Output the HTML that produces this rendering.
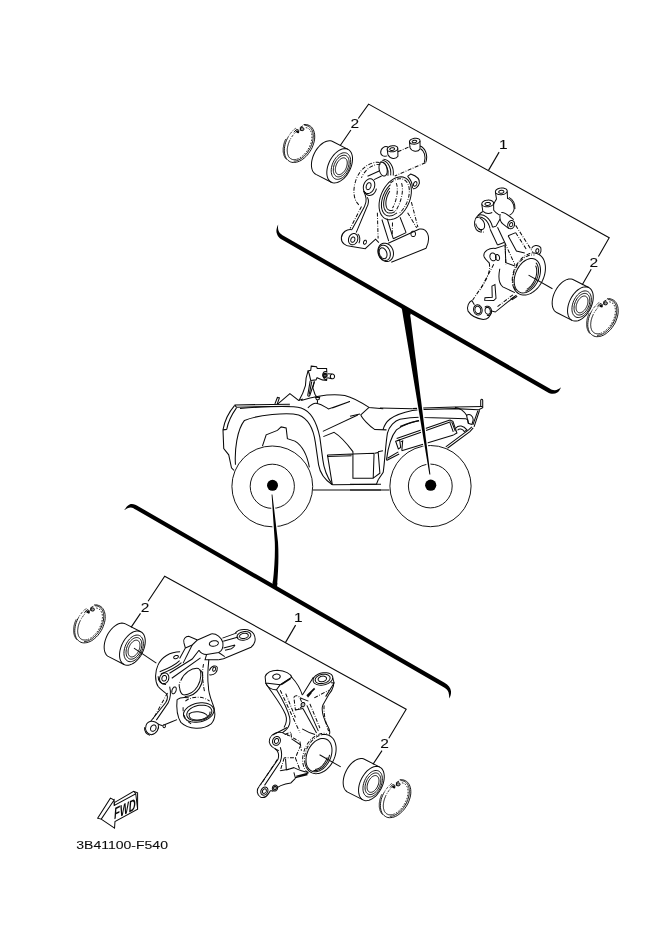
<!DOCTYPE html>
<html><head><meta charset="utf-8"><title>3B41100-F540</title>
<style>
html,body{margin:0;padding:0;background:#fff;}
body{width:661px;height:935px;overflow:hidden;font-family:"Liberation Sans",sans-serif;}
svg{display:block;}
text{font-family:"Liberation Sans",sans-serif;fill:#0a0a0a;stroke:#0a0a0a;stroke-width:0.08px;}
</style></head><body>
<svg style="filter:grayscale(1)" width="661" height="935" viewBox="0 0 661 935">
<rect width="661" height="935" fill="#fff"/>
<g transform="translate(299.5,143.5)" stroke-width="0.95"><path d="M4.1,-18.9 L5.6,-19.0 L7.1,-18.9 L8.5,-18.5 L9.8,-18.0 L10.9,-17.3 L12.0,-16.4 L12.9,-15.3 L13.7,-14.0 L14.3,-12.5 L14.8,-11.0 L15.1,-9.3 L15.2,-7.5 L15.2,-5.6 L15.0,-3.6 L14.6,-1.6 L14.0,0.4 L13.3,2.4 L12.5,4.4 L11.5,6.3 L10.3,8.2 L9.1,9.9 L7.8,11.6 L6.3,13.1 L4.8,14.5 L3.3,15.7 L1.7,16.8 L0.1,17.6 L-1.6,18.3 L-3.1,18.7 L-4.7,18.9 L-6.2,19.0 L-7.7,18.8 L-9.0,18.4 L-10.3,17.7 L-11.4,16.9 L-12.4,15.9 L-13.3,14.8 L-14.0,13.4 L-14.5,11.9 L-14.9,10.3 L-15.2,8.5 L-15.2,6.7 L-15.1,4.8 L-14.8,2.8 L-14.4,0.8 L-13.8,-1.2 L-13.0,-3.2 L-12.1,-5.2" fill="none" stroke="#0a0a0a"/><path d="M-12.1,-5.2 L-11.9,-5.4 L-11.8,-5.7 L-11.7,-5.9 L-11.5,-6.2 L-11.4,-6.4 L-11.3,-6.7 L-11.1,-6.9 L-11.0,-7.2 L-10.8,-7.4 L-10.7,-7.7 L-10.5,-7.9 L-10.4,-8.1 L-10.2,-8.4 L-10.1,-8.6 L-9.9,-8.8 L-9.8,-9.1 L-9.6,-9.3 L-9.4,-9.5 L-9.3,-9.7 L-9.1,-10.0 L-8.9,-10.2 L-8.7,-10.4 L-8.6,-10.6 L-8.4,-10.8 L-8.2,-11.1 L-8.0,-11.3 L-7.9,-11.5 L-7.7,-11.7 L-7.5,-11.9 L-7.3,-12.1 L-7.1,-12.3 L-6.9,-12.5 L-6.8,-12.7 L-6.6,-12.9 L-6.4,-13.1 L-6.2,-13.3 L-6.0,-13.5 L-5.8,-13.6 L-5.6,-13.8 L-5.4,-14.0 L-5.2,-14.2 L-5.0,-14.3 L-4.8,-14.5 L-4.6,-14.7 L-4.4,-14.8 L-4.2,-15.0 L-4.0,-15.2 L-3.8,-15.3" fill="none" stroke="#0a0a0a" stroke-dasharray="2.4 1.2 0.8 1.2"/><path d="M5.0,-18.1 L5.8,-18.1 L6.7,-18.0 L7.5,-17.8 L8.2,-17.5 L8.9,-17.2 L9.6,-16.8 L10.2,-16.3 L10.8,-15.8 L11.4,-15.2 L11.9,-14.5 L12.3,-13.8 L12.7,-13.0 L13.0,-12.2 L13.3,-11.3 L13.5,-10.3 L13.6,-9.3 L13.7,-8.3 L13.8,-7.3 L13.7,-6.2 L13.6,-5.0 L13.5,-3.9 L13.3,-2.8 L13.0,-1.6 L12.7,-0.4 L12.3,0.7 L11.9,1.9 L11.4,3.1 L10.8,4.2 L10.3,5.3 L9.6,6.4 L8.9,7.5 L8.2,8.6 L7.5,9.6 L6.7,10.5 L5.9,11.4 L5.0,12.3 L4.2,13.1 L3.3,13.9 L2.4,14.5 L1.5,15.2 L0.5,15.7 L-0.4,16.2 L-1.3,16.7 L-2.2,17.0 L-3.1,17.3 L-4.1,17.5 L-4.9,17.6 L-5.8,17.7" fill="none" stroke="#0a0a0a"/><path d="M6.3,-15.9 L6.9,-15.8 L7.5,-15.6 L8.1,-15.4 L8.7,-15.2 L9.2,-14.8 L9.7,-14.5 L10.1,-14.0 L10.5,-13.6 L10.9,-13.0 L11.2,-12.5 L11.5,-11.8 L11.8,-11.2 L12.0,-10.5 L12.2,-9.8 L12.3,-9.0 L12.4,-8.2 L12.5,-7.3 L12.5,-6.5 L12.4,-5.6 L12.3,-4.7 L12.2,-3.8 L12.0,-2.8 L11.8,-1.9 L11.6,-0.9 L11.3,0.0 L10.9,1.0 L10.5,1.9 L10.1,2.9 L9.7,3.8 L9.2,4.7 L8.7,5.6 L8.1,6.5 L7.6,7.4 L7.0,8.2 L6.3,9.0 L5.7,9.8 L5.0,10.6 L4.3,11.3 L3.6,11.9 L2.9,12.5 L2.2,13.1 L1.5,13.7 L0.7,14.1 L-0.0,14.6 L-0.7,15.0 L-1.5,15.3 L-2.2,15.6 L-2.9,15.8" fill="none" stroke="#0a0a0a" stroke-dasharray="1.6 1.4"/><path d="M-2.9,15.8 L-3.4,15.9 L-3.9,16.0 L-4.3,16.1 L-4.8,16.1 L-5.2,16.1 L-5.6,16.1 L-6.1,16.1 L-6.5,16.0 L-6.9,16.0 L-7.3,15.9 L-7.7,15.7 L-8.0,15.6 L-8.4,15.4 L-8.7,15.2 L-9.1,15.0 L-9.4,14.7 L-9.7,14.5 L-10.0,14.2 L-10.3,13.8 L-10.5,13.5 L-10.8,13.2 L-11.0,12.8 L-11.2,12.4 L-11.4,12.0 L-11.6,11.5 L-11.7,11.1 L-11.8,10.6 L-12.0,10.1 L-12.1,9.6 L-12.1,9.1 L-12.2,8.6 L-12.2,8.1 L-12.3,7.5 L-12.3,6.9 L-12.3,6.4 L-12.2,5.8 L-12.2,5.2 L-12.1,4.6 L-12.0,4.0 L-11.9,3.4 L-11.8,2.7 L-11.6,2.1 L-11.5,1.5 L-11.3,0.9 L-11.1,0.2 L-10.9,-0.4 L-10.6,-1.0 L-10.4,-1.6" fill="none" stroke="#0a0a0a"/><path d="M-10.4,-1.6 L-10.3,-1.9 L-10.2,-2.1 L-10.1,-2.3 L-10.0,-2.6 L-9.9,-2.8 L-9.8,-3.0 L-9.7,-3.3 L-9.5,-3.5 L-9.4,-3.7 L-9.3,-3.9 L-9.2,-4.2 L-9.1,-4.4 L-9.0,-4.6 L-8.8,-4.8 L-8.7,-5.1 L-8.6,-5.3 L-8.4,-5.5 L-8.3,-5.7 L-8.2,-5.9 L-8.0,-6.1 L-7.9,-6.4 L-7.8,-6.6 L-7.6,-6.8 L-7.5,-7.0 L-7.3,-7.2 L-7.2,-7.4 L-7.1,-7.6 L-6.9,-7.8 L-6.8,-8.0 L-6.6,-8.2 L-6.5,-8.4 L-6.3,-8.6 L-6.2,-8.8 L-6.0,-9.0 L-5.8,-9.2 L-5.7,-9.4 L-5.5,-9.6 L-5.4,-9.8 L-5.2,-9.9 L-5.0,-10.1 L-4.9,-10.3 L-4.7,-10.5 L-4.5,-10.6 L-4.4,-10.8 L-4.2,-11.0 L-4.0,-11.2 L-3.9,-11.3 L-3.7,-11.5" fill="none" stroke="#0a0a0a" stroke-dasharray="2.4 1.2 0.8 1.2"/><path d="M-13.0,15.9 L-13.3,15.6 L-13.5,15.3 L-13.7,15.1 L-13.9,14.8 L-14.2,14.5 L-14.4,14.2 L-14.5,13.9 L-14.7,13.5 L-14.9,13.2 L-15.1,12.8 L-15.2,12.5 L-15.4,12.1 L-15.5,11.8 L-15.6,11.4 L-15.7,11.0 L-15.8,10.6 L-15.9,10.2 L-16.0,9.8 L-16.1,9.3 L-16.2,8.9 L-16.2,8.5 L-16.3,8.0 L-16.3,7.6 L-16.3,7.2 L-16.3,6.7 L-16.3,6.2 L-16.3,5.8 L-16.3,5.3 L-16.3,4.8 L-16.2,4.3 L-16.2,3.9 L-16.1,3.4 L-16.0,2.9 L-16.0,2.4 L-15.9,1.9 L-15.8,1.4 L-15.7,0.9 L-15.5,0.4 L-15.4,-0.1 L-15.3,-0.6 L-15.1,-1.1 L-15.0,-1.6 L-14.8,-2.0 L-14.6,-2.5 L-14.4,-3.0 L-14.2,-3.5 L-14.0,-4.0 L-13.8,-4.5" fill="none" stroke="#0a0a0a"/><ellipse cx="-2.0" cy="-11.8" rx="1.7" ry="1.2" fill="#0a0a0a" stroke="none" transform="rotate(35 -2.0 -11.8)"/><ellipse cx="2.6" cy="-14.4" rx="1.9" ry="1.6" fill="#999" stroke="#0a0a0a"/><path d="M-5.6,-11.2 L-2.9,-14.2 L-0.6,-13.2 L-1.0,-10.4 M0.8,-16.2 L3.4,-17.6 M0.8,-16.2 L1.0,-13" fill="none" stroke="#0a0a0a"/></g>
<g transform="translate(602.96,317.7)" stroke-width="0.95"><path d="M4.1,-18.9 L5.6,-19.0 L7.1,-18.9 L8.5,-18.5 L9.8,-18.0 L10.9,-17.3 L12.0,-16.4 L12.9,-15.3 L13.7,-14.0 L14.3,-12.5 L14.8,-11.0 L15.1,-9.3 L15.2,-7.5 L15.2,-5.6 L15.0,-3.6 L14.6,-1.6 L14.0,0.4 L13.3,2.4 L12.5,4.4 L11.5,6.3 L10.3,8.2 L9.1,9.9 L7.8,11.6 L6.3,13.1 L4.8,14.5 L3.3,15.7 L1.7,16.8 L0.1,17.6 L-1.6,18.3 L-3.1,18.7 L-4.7,18.9 L-6.2,19.0 L-7.7,18.8 L-9.0,18.4 L-10.3,17.7 L-11.4,16.9 L-12.4,15.9 L-13.3,14.8 L-14.0,13.4 L-14.5,11.9 L-14.9,10.3 L-15.2,8.5 L-15.2,6.7 L-15.1,4.8 L-14.8,2.8 L-14.4,0.8 L-13.8,-1.2 L-13.0,-3.2 L-12.1,-5.2" fill="none" stroke="#0a0a0a"/><path d="M-12.1,-5.2 L-11.9,-5.4 L-11.8,-5.7 L-11.7,-5.9 L-11.5,-6.2 L-11.4,-6.4 L-11.3,-6.7 L-11.1,-6.9 L-11.0,-7.2 L-10.8,-7.4 L-10.7,-7.7 L-10.5,-7.9 L-10.4,-8.1 L-10.2,-8.4 L-10.1,-8.6 L-9.9,-8.8 L-9.8,-9.1 L-9.6,-9.3 L-9.4,-9.5 L-9.3,-9.7 L-9.1,-10.0 L-8.9,-10.2 L-8.7,-10.4 L-8.6,-10.6 L-8.4,-10.8 L-8.2,-11.1 L-8.0,-11.3 L-7.9,-11.5 L-7.7,-11.7 L-7.5,-11.9 L-7.3,-12.1 L-7.1,-12.3 L-6.9,-12.5 L-6.8,-12.7 L-6.6,-12.9 L-6.4,-13.1 L-6.2,-13.3 L-6.0,-13.5 L-5.8,-13.6 L-5.6,-13.8 L-5.4,-14.0 L-5.2,-14.2 L-5.0,-14.3 L-4.8,-14.5 L-4.6,-14.7 L-4.4,-14.8 L-4.2,-15.0 L-4.0,-15.2 L-3.8,-15.3" fill="none" stroke="#0a0a0a" stroke-dasharray="2.4 1.2 0.8 1.2"/><path d="M5.0,-18.1 L5.8,-18.1 L6.7,-18.0 L7.5,-17.8 L8.2,-17.5 L8.9,-17.2 L9.6,-16.8 L10.2,-16.3 L10.8,-15.8 L11.4,-15.2 L11.9,-14.5 L12.3,-13.8 L12.7,-13.0 L13.0,-12.2 L13.3,-11.3 L13.5,-10.3 L13.6,-9.3 L13.7,-8.3 L13.8,-7.3 L13.7,-6.2 L13.6,-5.0 L13.5,-3.9 L13.3,-2.8 L13.0,-1.6 L12.7,-0.4 L12.3,0.7 L11.9,1.9 L11.4,3.1 L10.8,4.2 L10.3,5.3 L9.6,6.4 L8.9,7.5 L8.2,8.6 L7.5,9.6 L6.7,10.5 L5.9,11.4 L5.0,12.3 L4.2,13.1 L3.3,13.9 L2.4,14.5 L1.5,15.2 L0.5,15.7 L-0.4,16.2 L-1.3,16.7 L-2.2,17.0 L-3.1,17.3 L-4.1,17.5 L-4.9,17.6 L-5.8,17.7" fill="none" stroke="#0a0a0a"/><path d="M6.3,-15.9 L6.9,-15.8 L7.5,-15.6 L8.1,-15.4 L8.7,-15.2 L9.2,-14.8 L9.7,-14.5 L10.1,-14.0 L10.5,-13.6 L10.9,-13.0 L11.2,-12.5 L11.5,-11.8 L11.8,-11.2 L12.0,-10.5 L12.2,-9.8 L12.3,-9.0 L12.4,-8.2 L12.5,-7.3 L12.5,-6.5 L12.4,-5.6 L12.3,-4.7 L12.2,-3.8 L12.0,-2.8 L11.8,-1.9 L11.6,-0.9 L11.3,0.0 L10.9,1.0 L10.5,1.9 L10.1,2.9 L9.7,3.8 L9.2,4.7 L8.7,5.6 L8.1,6.5 L7.6,7.4 L7.0,8.2 L6.3,9.0 L5.7,9.8 L5.0,10.6 L4.3,11.3 L3.6,11.9 L2.9,12.5 L2.2,13.1 L1.5,13.7 L0.7,14.1 L-0.0,14.6 L-0.7,15.0 L-1.5,15.3 L-2.2,15.6 L-2.9,15.8" fill="none" stroke="#0a0a0a" stroke-dasharray="1.6 1.4"/><path d="M-2.9,15.8 L-3.4,15.9 L-3.9,16.0 L-4.3,16.1 L-4.8,16.1 L-5.2,16.1 L-5.6,16.1 L-6.1,16.1 L-6.5,16.0 L-6.9,16.0 L-7.3,15.9 L-7.7,15.7 L-8.0,15.6 L-8.4,15.4 L-8.7,15.2 L-9.1,15.0 L-9.4,14.7 L-9.7,14.5 L-10.0,14.2 L-10.3,13.8 L-10.5,13.5 L-10.8,13.2 L-11.0,12.8 L-11.2,12.4 L-11.4,12.0 L-11.6,11.5 L-11.7,11.1 L-11.8,10.6 L-12.0,10.1 L-12.1,9.6 L-12.1,9.1 L-12.2,8.6 L-12.2,8.1 L-12.3,7.5 L-12.3,6.9 L-12.3,6.4 L-12.2,5.8 L-12.2,5.2 L-12.1,4.6 L-12.0,4.0 L-11.9,3.4 L-11.8,2.7 L-11.6,2.1 L-11.5,1.5 L-11.3,0.9 L-11.1,0.2 L-10.9,-0.4 L-10.6,-1.0 L-10.4,-1.6" fill="none" stroke="#0a0a0a"/><path d="M-10.4,-1.6 L-10.3,-1.9 L-10.2,-2.1 L-10.1,-2.3 L-10.0,-2.6 L-9.9,-2.8 L-9.8,-3.0 L-9.7,-3.3 L-9.5,-3.5 L-9.4,-3.7 L-9.3,-3.9 L-9.2,-4.2 L-9.1,-4.4 L-9.0,-4.6 L-8.8,-4.8 L-8.7,-5.1 L-8.6,-5.3 L-8.4,-5.5 L-8.3,-5.7 L-8.2,-5.9 L-8.0,-6.1 L-7.9,-6.4 L-7.8,-6.6 L-7.6,-6.8 L-7.5,-7.0 L-7.3,-7.2 L-7.2,-7.4 L-7.1,-7.6 L-6.9,-7.8 L-6.8,-8.0 L-6.6,-8.2 L-6.5,-8.4 L-6.3,-8.6 L-6.2,-8.8 L-6.0,-9.0 L-5.8,-9.2 L-5.7,-9.4 L-5.5,-9.6 L-5.4,-9.8 L-5.2,-9.9 L-5.0,-10.1 L-4.9,-10.3 L-4.7,-10.5 L-4.5,-10.6 L-4.4,-10.8 L-4.2,-11.0 L-4.0,-11.2 L-3.9,-11.3 L-3.7,-11.5" fill="none" stroke="#0a0a0a" stroke-dasharray="2.4 1.2 0.8 1.2"/><path d="M-13.0,15.9 L-13.3,15.6 L-13.5,15.3 L-13.7,15.1 L-13.9,14.8 L-14.2,14.5 L-14.4,14.2 L-14.5,13.9 L-14.7,13.5 L-14.9,13.2 L-15.1,12.8 L-15.2,12.5 L-15.4,12.1 L-15.5,11.8 L-15.6,11.4 L-15.7,11.0 L-15.8,10.6 L-15.9,10.2 L-16.0,9.8 L-16.1,9.3 L-16.2,8.9 L-16.2,8.5 L-16.3,8.0 L-16.3,7.6 L-16.3,7.2 L-16.3,6.7 L-16.3,6.2 L-16.3,5.8 L-16.3,5.3 L-16.3,4.8 L-16.2,4.3 L-16.2,3.9 L-16.1,3.4 L-16.0,2.9 L-16.0,2.4 L-15.9,1.9 L-15.8,1.4 L-15.7,0.9 L-15.5,0.4 L-15.4,-0.1 L-15.3,-0.6 L-15.1,-1.1 L-15.0,-1.6 L-14.8,-2.0 L-14.6,-2.5 L-14.4,-3.0 L-14.2,-3.5 L-14.0,-4.0 L-13.8,-4.5" fill="none" stroke="#0a0a0a"/><ellipse cx="-2.0" cy="-11.8" rx="1.7" ry="1.2" fill="#0a0a0a" stroke="none" transform="rotate(35 -2.0 -11.8)"/><ellipse cx="2.6" cy="-14.4" rx="1.9" ry="1.6" fill="#999" stroke="#0a0a0a"/><path d="M-5.6,-11.2 L-2.9,-14.2 L-0.6,-13.2 L-1.0,-10.4 M0.8,-16.2 L3.4,-17.6 M0.8,-16.2 L1.0,-13" fill="none" stroke="#0a0a0a"/></g>
<g transform="translate(89.96,623.9)" stroke-width="0.95"><path d="M4.1,-18.9 L5.6,-19.0 L7.1,-18.9 L8.5,-18.5 L9.8,-18.0 L10.9,-17.3 L12.0,-16.4 L12.9,-15.3 L13.7,-14.0 L14.3,-12.5 L14.8,-11.0 L15.1,-9.3 L15.2,-7.5 L15.2,-5.6 L15.0,-3.6 L14.6,-1.6 L14.0,0.4 L13.3,2.4 L12.5,4.4 L11.5,6.3 L10.3,8.2 L9.1,9.9 L7.8,11.6 L6.3,13.1 L4.8,14.5 L3.3,15.7 L1.7,16.8 L0.1,17.6 L-1.6,18.3 L-3.1,18.7 L-4.7,18.9 L-6.2,19.0 L-7.7,18.8 L-9.0,18.4 L-10.3,17.7 L-11.4,16.9 L-12.4,15.9 L-13.3,14.8 L-14.0,13.4 L-14.5,11.9 L-14.9,10.3 L-15.2,8.5 L-15.2,6.7 L-15.1,4.8 L-14.8,2.8 L-14.4,0.8 L-13.8,-1.2 L-13.0,-3.2 L-12.1,-5.2" fill="none" stroke="#0a0a0a"/><path d="M-12.1,-5.2 L-11.9,-5.4 L-11.8,-5.7 L-11.7,-5.9 L-11.5,-6.2 L-11.4,-6.4 L-11.3,-6.7 L-11.1,-6.9 L-11.0,-7.2 L-10.8,-7.4 L-10.7,-7.7 L-10.5,-7.9 L-10.4,-8.1 L-10.2,-8.4 L-10.1,-8.6 L-9.9,-8.8 L-9.8,-9.1 L-9.6,-9.3 L-9.4,-9.5 L-9.3,-9.7 L-9.1,-10.0 L-8.9,-10.2 L-8.7,-10.4 L-8.6,-10.6 L-8.4,-10.8 L-8.2,-11.1 L-8.0,-11.3 L-7.9,-11.5 L-7.7,-11.7 L-7.5,-11.9 L-7.3,-12.1 L-7.1,-12.3 L-6.9,-12.5 L-6.8,-12.7 L-6.6,-12.9 L-6.4,-13.1 L-6.2,-13.3 L-6.0,-13.5 L-5.8,-13.6 L-5.6,-13.8 L-5.4,-14.0 L-5.2,-14.2 L-5.0,-14.3 L-4.8,-14.5 L-4.6,-14.7 L-4.4,-14.8 L-4.2,-15.0 L-4.0,-15.2 L-3.8,-15.3" fill="none" stroke="#0a0a0a" stroke-dasharray="2.4 1.2 0.8 1.2"/><path d="M5.0,-18.1 L5.8,-18.1 L6.7,-18.0 L7.5,-17.8 L8.2,-17.5 L8.9,-17.2 L9.6,-16.8 L10.2,-16.3 L10.8,-15.8 L11.4,-15.2 L11.9,-14.5 L12.3,-13.8 L12.7,-13.0 L13.0,-12.2 L13.3,-11.3 L13.5,-10.3 L13.6,-9.3 L13.7,-8.3 L13.8,-7.3 L13.7,-6.2 L13.6,-5.0 L13.5,-3.9 L13.3,-2.8 L13.0,-1.6 L12.7,-0.4 L12.3,0.7 L11.9,1.9 L11.4,3.1 L10.8,4.2 L10.3,5.3 L9.6,6.4 L8.9,7.5 L8.2,8.6 L7.5,9.6 L6.7,10.5 L5.9,11.4 L5.0,12.3 L4.2,13.1 L3.3,13.9 L2.4,14.5 L1.5,15.2 L0.5,15.7 L-0.4,16.2 L-1.3,16.7 L-2.2,17.0 L-3.1,17.3 L-4.1,17.5 L-4.9,17.6 L-5.8,17.7" fill="none" stroke="#0a0a0a"/><path d="M6.3,-15.9 L6.9,-15.8 L7.5,-15.6 L8.1,-15.4 L8.7,-15.2 L9.2,-14.8 L9.7,-14.5 L10.1,-14.0 L10.5,-13.6 L10.9,-13.0 L11.2,-12.5 L11.5,-11.8 L11.8,-11.2 L12.0,-10.5 L12.2,-9.8 L12.3,-9.0 L12.4,-8.2 L12.5,-7.3 L12.5,-6.5 L12.4,-5.6 L12.3,-4.7 L12.2,-3.8 L12.0,-2.8 L11.8,-1.9 L11.6,-0.9 L11.3,0.0 L10.9,1.0 L10.5,1.9 L10.1,2.9 L9.7,3.8 L9.2,4.7 L8.7,5.6 L8.1,6.5 L7.6,7.4 L7.0,8.2 L6.3,9.0 L5.7,9.8 L5.0,10.6 L4.3,11.3 L3.6,11.9 L2.9,12.5 L2.2,13.1 L1.5,13.7 L0.7,14.1 L-0.0,14.6 L-0.7,15.0 L-1.5,15.3 L-2.2,15.6 L-2.9,15.8" fill="none" stroke="#0a0a0a" stroke-dasharray="1.6 1.4"/><path d="M-2.9,15.8 L-3.4,15.9 L-3.9,16.0 L-4.3,16.1 L-4.8,16.1 L-5.2,16.1 L-5.6,16.1 L-6.1,16.1 L-6.5,16.0 L-6.9,16.0 L-7.3,15.9 L-7.7,15.7 L-8.0,15.6 L-8.4,15.4 L-8.7,15.2 L-9.1,15.0 L-9.4,14.7 L-9.7,14.5 L-10.0,14.2 L-10.3,13.8 L-10.5,13.5 L-10.8,13.2 L-11.0,12.8 L-11.2,12.4 L-11.4,12.0 L-11.6,11.5 L-11.7,11.1 L-11.8,10.6 L-12.0,10.1 L-12.1,9.6 L-12.1,9.1 L-12.2,8.6 L-12.2,8.1 L-12.3,7.5 L-12.3,6.9 L-12.3,6.4 L-12.2,5.8 L-12.2,5.2 L-12.1,4.6 L-12.0,4.0 L-11.9,3.4 L-11.8,2.7 L-11.6,2.1 L-11.5,1.5 L-11.3,0.9 L-11.1,0.2 L-10.9,-0.4 L-10.6,-1.0 L-10.4,-1.6" fill="none" stroke="#0a0a0a"/><path d="M-10.4,-1.6 L-10.3,-1.9 L-10.2,-2.1 L-10.1,-2.3 L-10.0,-2.6 L-9.9,-2.8 L-9.8,-3.0 L-9.7,-3.3 L-9.5,-3.5 L-9.4,-3.7 L-9.3,-3.9 L-9.2,-4.2 L-9.1,-4.4 L-9.0,-4.6 L-8.8,-4.8 L-8.7,-5.1 L-8.6,-5.3 L-8.4,-5.5 L-8.3,-5.7 L-8.2,-5.9 L-8.0,-6.1 L-7.9,-6.4 L-7.8,-6.6 L-7.6,-6.8 L-7.5,-7.0 L-7.3,-7.2 L-7.2,-7.4 L-7.1,-7.6 L-6.9,-7.8 L-6.8,-8.0 L-6.6,-8.2 L-6.5,-8.4 L-6.3,-8.6 L-6.2,-8.8 L-6.0,-9.0 L-5.8,-9.2 L-5.7,-9.4 L-5.5,-9.6 L-5.4,-9.8 L-5.2,-9.9 L-5.0,-10.1 L-4.9,-10.3 L-4.7,-10.5 L-4.5,-10.6 L-4.4,-10.8 L-4.2,-11.0 L-4.0,-11.2 L-3.9,-11.3 L-3.7,-11.5" fill="none" stroke="#0a0a0a" stroke-dasharray="2.4 1.2 0.8 1.2"/><path d="M-13.0,15.9 L-13.3,15.6 L-13.5,15.3 L-13.7,15.1 L-13.9,14.8 L-14.2,14.5 L-14.4,14.2 L-14.5,13.9 L-14.7,13.5 L-14.9,13.2 L-15.1,12.8 L-15.2,12.5 L-15.4,12.1 L-15.5,11.8 L-15.6,11.4 L-15.7,11.0 L-15.8,10.6 L-15.9,10.2 L-16.0,9.8 L-16.1,9.3 L-16.2,8.9 L-16.2,8.5 L-16.3,8.0 L-16.3,7.6 L-16.3,7.2 L-16.3,6.7 L-16.3,6.2 L-16.3,5.8 L-16.3,5.3 L-16.3,4.8 L-16.2,4.3 L-16.2,3.9 L-16.1,3.4 L-16.0,2.9 L-16.0,2.4 L-15.9,1.9 L-15.8,1.4 L-15.7,0.9 L-15.5,0.4 L-15.4,-0.1 L-15.3,-0.6 L-15.1,-1.1 L-15.0,-1.6 L-14.8,-2.0 L-14.6,-2.5 L-14.4,-3.0 L-14.2,-3.5 L-14.0,-4.0 L-13.8,-4.5" fill="none" stroke="#0a0a0a"/><ellipse cx="-2.0" cy="-11.8" rx="1.7" ry="1.2" fill="#0a0a0a" stroke="none" transform="rotate(35 -2.0 -11.8)"/><ellipse cx="2.6" cy="-14.4" rx="1.9" ry="1.6" fill="#999" stroke="#0a0a0a"/><path d="M-5.6,-11.2 L-2.9,-14.2 L-0.6,-13.2 L-1.0,-10.4 M0.8,-16.2 L3.4,-17.6 M0.8,-16.2 L1.0,-13" fill="none" stroke="#0a0a0a"/></g>
<g transform="translate(395.6,798.7)" stroke-width="0.95"><path d="M4.1,-18.9 L5.6,-19.0 L7.1,-18.9 L8.5,-18.5 L9.8,-18.0 L10.9,-17.3 L12.0,-16.4 L12.9,-15.3 L13.7,-14.0 L14.3,-12.5 L14.8,-11.0 L15.1,-9.3 L15.2,-7.5 L15.2,-5.6 L15.0,-3.6 L14.6,-1.6 L14.0,0.4 L13.3,2.4 L12.5,4.4 L11.5,6.3 L10.3,8.2 L9.1,9.9 L7.8,11.6 L6.3,13.1 L4.8,14.5 L3.3,15.7 L1.7,16.8 L0.1,17.6 L-1.6,18.3 L-3.1,18.7 L-4.7,18.9 L-6.2,19.0 L-7.7,18.8 L-9.0,18.4 L-10.3,17.7 L-11.4,16.9 L-12.4,15.9 L-13.3,14.8 L-14.0,13.4 L-14.5,11.9 L-14.9,10.3 L-15.2,8.5 L-15.2,6.7 L-15.1,4.8 L-14.8,2.8 L-14.4,0.8 L-13.8,-1.2 L-13.0,-3.2 L-12.1,-5.2" fill="none" stroke="#0a0a0a"/><path d="M-12.1,-5.2 L-11.9,-5.4 L-11.8,-5.7 L-11.7,-5.9 L-11.5,-6.2 L-11.4,-6.4 L-11.3,-6.7 L-11.1,-6.9 L-11.0,-7.2 L-10.8,-7.4 L-10.7,-7.7 L-10.5,-7.9 L-10.4,-8.1 L-10.2,-8.4 L-10.1,-8.6 L-9.9,-8.8 L-9.8,-9.1 L-9.6,-9.3 L-9.4,-9.5 L-9.3,-9.7 L-9.1,-10.0 L-8.9,-10.2 L-8.7,-10.4 L-8.6,-10.6 L-8.4,-10.8 L-8.2,-11.1 L-8.0,-11.3 L-7.9,-11.5 L-7.7,-11.7 L-7.5,-11.9 L-7.3,-12.1 L-7.1,-12.3 L-6.9,-12.5 L-6.8,-12.7 L-6.6,-12.9 L-6.4,-13.1 L-6.2,-13.3 L-6.0,-13.5 L-5.8,-13.6 L-5.6,-13.8 L-5.4,-14.0 L-5.2,-14.2 L-5.0,-14.3 L-4.8,-14.5 L-4.6,-14.7 L-4.4,-14.8 L-4.2,-15.0 L-4.0,-15.2 L-3.8,-15.3" fill="none" stroke="#0a0a0a" stroke-dasharray="2.4 1.2 0.8 1.2"/><path d="M5.0,-18.1 L5.8,-18.1 L6.7,-18.0 L7.5,-17.8 L8.2,-17.5 L8.9,-17.2 L9.6,-16.8 L10.2,-16.3 L10.8,-15.8 L11.4,-15.2 L11.9,-14.5 L12.3,-13.8 L12.7,-13.0 L13.0,-12.2 L13.3,-11.3 L13.5,-10.3 L13.6,-9.3 L13.7,-8.3 L13.8,-7.3 L13.7,-6.2 L13.6,-5.0 L13.5,-3.9 L13.3,-2.8 L13.0,-1.6 L12.7,-0.4 L12.3,0.7 L11.9,1.9 L11.4,3.1 L10.8,4.2 L10.3,5.3 L9.6,6.4 L8.9,7.5 L8.2,8.6 L7.5,9.6 L6.7,10.5 L5.9,11.4 L5.0,12.3 L4.2,13.1 L3.3,13.9 L2.4,14.5 L1.5,15.2 L0.5,15.7 L-0.4,16.2 L-1.3,16.7 L-2.2,17.0 L-3.1,17.3 L-4.1,17.5 L-4.9,17.6 L-5.8,17.7" fill="none" stroke="#0a0a0a"/><path d="M6.3,-15.9 L6.9,-15.8 L7.5,-15.6 L8.1,-15.4 L8.7,-15.2 L9.2,-14.8 L9.7,-14.5 L10.1,-14.0 L10.5,-13.6 L10.9,-13.0 L11.2,-12.5 L11.5,-11.8 L11.8,-11.2 L12.0,-10.5 L12.2,-9.8 L12.3,-9.0 L12.4,-8.2 L12.5,-7.3 L12.5,-6.5 L12.4,-5.6 L12.3,-4.7 L12.2,-3.8 L12.0,-2.8 L11.8,-1.9 L11.6,-0.9 L11.3,0.0 L10.9,1.0 L10.5,1.9 L10.1,2.9 L9.7,3.8 L9.2,4.7 L8.7,5.6 L8.1,6.5 L7.6,7.4 L7.0,8.2 L6.3,9.0 L5.7,9.8 L5.0,10.6 L4.3,11.3 L3.6,11.9 L2.9,12.5 L2.2,13.1 L1.5,13.7 L0.7,14.1 L-0.0,14.6 L-0.7,15.0 L-1.5,15.3 L-2.2,15.6 L-2.9,15.8" fill="none" stroke="#0a0a0a" stroke-dasharray="1.6 1.4"/><path d="M-2.9,15.8 L-3.4,15.9 L-3.9,16.0 L-4.3,16.1 L-4.8,16.1 L-5.2,16.1 L-5.6,16.1 L-6.1,16.1 L-6.5,16.0 L-6.9,16.0 L-7.3,15.9 L-7.7,15.7 L-8.0,15.6 L-8.4,15.4 L-8.7,15.2 L-9.1,15.0 L-9.4,14.7 L-9.7,14.5 L-10.0,14.2 L-10.3,13.8 L-10.5,13.5 L-10.8,13.2 L-11.0,12.8 L-11.2,12.4 L-11.4,12.0 L-11.6,11.5 L-11.7,11.1 L-11.8,10.6 L-12.0,10.1 L-12.1,9.6 L-12.1,9.1 L-12.2,8.6 L-12.2,8.1 L-12.3,7.5 L-12.3,6.9 L-12.3,6.4 L-12.2,5.8 L-12.2,5.2 L-12.1,4.6 L-12.0,4.0 L-11.9,3.4 L-11.8,2.7 L-11.6,2.1 L-11.5,1.5 L-11.3,0.9 L-11.1,0.2 L-10.9,-0.4 L-10.6,-1.0 L-10.4,-1.6" fill="none" stroke="#0a0a0a"/><path d="M-10.4,-1.6 L-10.3,-1.9 L-10.2,-2.1 L-10.1,-2.3 L-10.0,-2.6 L-9.9,-2.8 L-9.8,-3.0 L-9.7,-3.3 L-9.5,-3.5 L-9.4,-3.7 L-9.3,-3.9 L-9.2,-4.2 L-9.1,-4.4 L-9.0,-4.6 L-8.8,-4.8 L-8.7,-5.1 L-8.6,-5.3 L-8.4,-5.5 L-8.3,-5.7 L-8.2,-5.9 L-8.0,-6.1 L-7.9,-6.4 L-7.8,-6.6 L-7.6,-6.8 L-7.5,-7.0 L-7.3,-7.2 L-7.2,-7.4 L-7.1,-7.6 L-6.9,-7.8 L-6.8,-8.0 L-6.6,-8.2 L-6.5,-8.4 L-6.3,-8.6 L-6.2,-8.8 L-6.0,-9.0 L-5.8,-9.2 L-5.7,-9.4 L-5.5,-9.6 L-5.4,-9.8 L-5.2,-9.9 L-5.0,-10.1 L-4.9,-10.3 L-4.7,-10.5 L-4.5,-10.6 L-4.4,-10.8 L-4.2,-11.0 L-4.0,-11.2 L-3.9,-11.3 L-3.7,-11.5" fill="none" stroke="#0a0a0a" stroke-dasharray="2.4 1.2 0.8 1.2"/><path d="M-13.0,15.9 L-13.3,15.6 L-13.5,15.3 L-13.7,15.1 L-13.9,14.8 L-14.2,14.5 L-14.4,14.2 L-14.5,13.9 L-14.7,13.5 L-14.9,13.2 L-15.1,12.8 L-15.2,12.5 L-15.4,12.1 L-15.5,11.8 L-15.6,11.4 L-15.7,11.0 L-15.8,10.6 L-15.9,10.2 L-16.0,9.8 L-16.1,9.3 L-16.2,8.9 L-16.2,8.5 L-16.3,8.0 L-16.3,7.6 L-16.3,7.2 L-16.3,6.7 L-16.3,6.2 L-16.3,5.8 L-16.3,5.3 L-16.3,4.8 L-16.2,4.3 L-16.2,3.9 L-16.1,3.4 L-16.0,2.9 L-16.0,2.4 L-15.9,1.9 L-15.8,1.4 L-15.7,0.9 L-15.5,0.4 L-15.4,-0.1 L-15.3,-0.6 L-15.1,-1.1 L-15.0,-1.6 L-14.8,-2.0 L-14.6,-2.5 L-14.4,-3.0 L-14.2,-3.5 L-14.0,-4.0 L-13.8,-4.5" fill="none" stroke="#0a0a0a"/><ellipse cx="-2.0" cy="-11.8" rx="1.7" ry="1.2" fill="#0a0a0a" stroke="none" transform="rotate(35 -2.0 -11.8)"/><ellipse cx="2.6" cy="-14.4" rx="1.9" ry="1.6" fill="#999" stroke="#0a0a0a"/><path d="M-5.6,-11.2 L-2.9,-14.2 L-0.6,-13.2 L-1.0,-10.4 M0.8,-16.2 L3.4,-17.6 M0.8,-16.2 L1.0,-13" fill="none" stroke="#0a0a0a"/></g>
<g transform="translate(304.99631387855135,134.99937278751023) scale(0.09077)" stroke-width="11.02" ><path d="M474.2,158.1 L304.9,71.9 L293.1,67.1 L280.4,64.4 L267.0,63.7 L253.1,65.2 L238.6,68.6 L223.9,74.1 L209.1,81.6 L194.3,90.9 L179.7,102.0 L165.4,114.7 L151.7,129.0 L138.7,144.6 L126.4,161.4 L115.1,179.2 L104.9,197.8 L95.9,217.0 L88.1,236.6 L81.7,256.4 L76.7,276.1 L73.3,295.6 L71.3,314.6 L70.9,332.9 L72.1,350.4 L74.8,366.8 L79.0,381.9 L84.7,395.6 L91.7,407.8 L100.1,418.2 L109.8,426.9 L120.5,433.6 L289.8,519.9 Z" fill="#fff" stroke="none"/><path d="M489.8,393.9 L476.9,417.1 L462.3,438.9 L446.3,459.0 L429.3,477.0 L411.4,492.7 L393.1,505.7 L374.5,515.9 L356.1,523.1 L338.1,527.1 L320.9,527.9 L304.7,525.5 L289.8,519.9 L276.6,511.2 L265.1,499.5 L255.6,485.1 L248.3,468.2 L243.3,449.1 L240.6,428.1 L240.4,405.5 L242.6,381.9 L247.1,357.5 L254.0,332.8 L263.1,308.1 L274.2,284.1 L287.1,260.9 L301.7,239.1 L317.7,219.0 L334.7,201.0 L352.6,185.3 L370.9,172.3 L389.5,162.1 L407.9,154.9 L425.9,150.9 L443.1,150.1 L459.3,152.5 L474.2,158.1 L487.4,166.8 L498.9,178.5 L508.4,192.9 L515.7,209.8 L520.7,228.9 L523.4,249.9 L523.6,272.5 L521.4,296.1 L516.9,320.5 L510.0,345.2 L500.9,369.9 L489.8,393.9Z" fill="#fff" stroke="#0a0a0a"/><path d="M482.8,380.6 L473.8,398.8 L463.5,416.0 L452.1,431.9 L439.6,446.3 L426.5,458.9 L412.8,469.4 L398.8,477.9 L384.8,483.9 L371.0,487.6 L357.6,488.8 L344.8,487.4 L333.0,483.6 L322.2,477.3 L312.6,468.8 L304.5,458.0 L298.0,445.3 L293.2,430.8 L290.1,414.8 L288.8,397.5 L289.3,379.3 L291.7,360.5 L295.9,341.3 L301.7,322.2 L309.2,303.4 L318.2,285.2 L328.5,268.0 L339.9,252.1 L352.4,237.7 L365.5,225.1 L379.2,214.6 L393.2,206.1 L407.2,200.1 L421.0,196.4 L434.4,195.2 L447.2,196.6 L459.0,200.4 L469.8,206.7 L479.4,215.2 L487.5,226.0 L494.0,238.7 L498.8,253.2 L501.9,269.2 L503.2,286.5 L502.7,304.7 L500.3,323.5 L496.1,342.7 L490.3,361.8 L482.8,380.6Z" fill="none" stroke="#0a0a0a" stroke-width="10.5"/><path d="M469.3,373.3 L462.1,388.1 L453.7,402.0 L444.4,415.0 L434.3,426.7 L423.6,436.9 L412.5,445.5 L401.2,452.4 L389.8,457.3 L378.6,460.3 L367.7,461.3 L357.4,460.2 L347.8,457.1 L339.0,452.0 L331.3,445.1 L324.7,436.4 L319.4,426.0 L315.5,414.3 L313.0,401.2 L312.0,387.2 L312.5,372.4 L314.4,357.1 L317.8,341.5 L322.6,326.0 L328.7,310.7 L335.9,295.9 L344.3,282.0 L353.6,269.0 L363.7,257.3 L374.4,247.1 L385.5,238.5 L396.8,231.6 L408.2,226.7 L419.4,223.7 L430.3,222.7 L440.6,223.8 L450.2,226.9 L459.0,232.0 L466.7,238.9 L473.3,247.6 L478.6,258.0 L482.5,269.7 L485.0,282.8 L486.0,296.8 L485.5,311.6 L483.6,326.9 L480.2,342.5 L475.4,358.0 L469.3,373.3Z" fill="none" stroke="#0a0a0a" stroke-width="10.5"/><path d="M452.1,367.2 L446.4,378.7 L440.0,389.6 L432.9,399.7 L425.2,408.8 L417.0,416.9 L408.6,423.7 L400.1,429.1 L391.5,433.1 L383.1,435.6 L375.0,436.5 L367.3,435.8 L360.1,433.5 L353.7,429.7 L348.0,424.5 L343.2,417.8 L339.4,409.9 L336.7,400.9 L335.0,390.9 L334.4,380.1 L335.0,368.7 L336.6,356.8 L339.4,344.8 L343.2,332.7 L347.9,320.8 L353.6,309.3 L360.0,298.4 L367.1,288.3 L374.8,279.2 L383.0,271.1 L391.4,264.3 L399.9,258.9 L408.5,254.9 L416.9,252.4 L425.0,251.5 L432.7,252.2 L439.9,254.5 L446.3,258.3 L452.0,263.5 L456.8,270.2 L460.6,278.1 L463.3,287.1 L465.0,297.1 L465.6,307.9 L465.0,319.3 L463.4,331.2 L460.6,343.2 L456.8,355.3 L452.1,367.2Z" fill="none" stroke="#0a0a0a" stroke-width="10.5"/><path d="M474.2,158.1 L304.9,71.9 L293.1,67.1 L280.4,64.4 L267.0,63.7 L253.1,65.2 L238.6,68.6 L223.9,74.1 L209.1,81.6 L194.3,90.9 L179.7,102.0 L165.4,114.7 L151.7,129.0 L138.7,144.6 L126.4,161.4 L115.1,179.2 L104.9,197.8 L95.9,217.0 L88.1,236.6 L81.7,256.4 L76.7,276.1 L73.3,295.6 L71.3,314.6 L70.9,332.9 L72.1,350.4 L74.8,366.8 L79.0,381.9 L84.7,395.6 L91.7,407.8 L100.1,418.2 L109.8,426.9 L120.5,433.6 L289.8,519.9" fill="none" stroke="#0a0a0a"/></g>
<g transform="translate(545.7263138785513,273.1793727875102) scale(0.09077)" stroke-width="11.02" ><path d="M474.2,158.1 L304.9,71.9 L293.1,67.1 L280.4,64.4 L267.0,63.7 L253.1,65.2 L238.6,68.6 L223.9,74.1 L209.1,81.6 L194.3,90.9 L179.7,102.0 L165.4,114.7 L151.7,129.0 L138.7,144.6 L126.4,161.4 L115.1,179.2 L104.9,197.8 L95.9,217.0 L88.1,236.6 L81.7,256.4 L76.7,276.1 L73.3,295.6 L71.3,314.6 L70.9,332.9 L72.1,350.4 L74.8,366.8 L79.0,381.9 L84.7,395.6 L91.7,407.8 L100.1,418.2 L109.8,426.9 L120.5,433.6 L289.8,519.9 Z" fill="#fff" stroke="none"/><path d="M489.8,393.9 L476.9,417.1 L462.3,438.9 L446.3,459.0 L429.3,477.0 L411.4,492.7 L393.1,505.7 L374.5,515.9 L356.1,523.1 L338.1,527.1 L320.9,527.9 L304.7,525.5 L289.8,519.9 L276.6,511.2 L265.1,499.5 L255.6,485.1 L248.3,468.2 L243.3,449.1 L240.6,428.1 L240.4,405.5 L242.6,381.9 L247.1,357.5 L254.0,332.8 L263.1,308.1 L274.2,284.1 L287.1,260.9 L301.7,239.1 L317.7,219.0 L334.7,201.0 L352.6,185.3 L370.9,172.3 L389.5,162.1 L407.9,154.9 L425.9,150.9 L443.1,150.1 L459.3,152.5 L474.2,158.1 L487.4,166.8 L498.9,178.5 L508.4,192.9 L515.7,209.8 L520.7,228.9 L523.4,249.9 L523.6,272.5 L521.4,296.1 L516.9,320.5 L510.0,345.2 L500.9,369.9 L489.8,393.9Z" fill="#fff" stroke="#0a0a0a"/><path d="M482.8,380.6 L473.8,398.8 L463.5,416.0 L452.1,431.9 L439.6,446.3 L426.5,458.9 L412.8,469.4 L398.8,477.9 L384.8,483.9 L371.0,487.6 L357.6,488.8 L344.8,487.4 L333.0,483.6 L322.2,477.3 L312.6,468.8 L304.5,458.0 L298.0,445.3 L293.2,430.8 L290.1,414.8 L288.8,397.5 L289.3,379.3 L291.7,360.5 L295.9,341.3 L301.7,322.2 L309.2,303.4 L318.2,285.2 L328.5,268.0 L339.9,252.1 L352.4,237.7 L365.5,225.1 L379.2,214.6 L393.2,206.1 L407.2,200.1 L421.0,196.4 L434.4,195.2 L447.2,196.6 L459.0,200.4 L469.8,206.7 L479.4,215.2 L487.5,226.0 L494.0,238.7 L498.8,253.2 L501.9,269.2 L503.2,286.5 L502.7,304.7 L500.3,323.5 L496.1,342.7 L490.3,361.8 L482.8,380.6Z" fill="none" stroke="#0a0a0a" stroke-width="10.5"/><path d="M469.3,373.3 L462.1,388.1 L453.7,402.0 L444.4,415.0 L434.3,426.7 L423.6,436.9 L412.5,445.5 L401.2,452.4 L389.8,457.3 L378.6,460.3 L367.7,461.3 L357.4,460.2 L347.8,457.1 L339.0,452.0 L331.3,445.1 L324.7,436.4 L319.4,426.0 L315.5,414.3 L313.0,401.2 L312.0,387.2 L312.5,372.4 L314.4,357.1 L317.8,341.5 L322.6,326.0 L328.7,310.7 L335.9,295.9 L344.3,282.0 L353.6,269.0 L363.7,257.3 L374.4,247.1 L385.5,238.5 L396.8,231.6 L408.2,226.7 L419.4,223.7 L430.3,222.7 L440.6,223.8 L450.2,226.9 L459.0,232.0 L466.7,238.9 L473.3,247.6 L478.6,258.0 L482.5,269.7 L485.0,282.8 L486.0,296.8 L485.5,311.6 L483.6,326.9 L480.2,342.5 L475.4,358.0 L469.3,373.3Z" fill="none" stroke="#0a0a0a" stroke-width="10.5"/><path d="M452.1,367.2 L446.4,378.7 L440.0,389.6 L432.9,399.7 L425.2,408.8 L417.0,416.9 L408.6,423.7 L400.1,429.1 L391.5,433.1 L383.1,435.6 L375.0,436.5 L367.3,435.8 L360.1,433.5 L353.7,429.7 L348.0,424.5 L343.2,417.8 L339.4,409.9 L336.7,400.9 L335.0,390.9 L334.4,380.1 L335.0,368.7 L336.6,356.8 L339.4,344.8 L343.2,332.7 L347.9,320.8 L353.6,309.3 L360.0,298.4 L367.1,288.3 L374.8,279.2 L383.0,271.1 L391.4,264.3 L399.9,258.9 L408.5,254.9 L416.9,252.4 L425.0,251.5 L432.7,252.2 L439.9,254.5 L446.3,258.3 L452.0,263.5 L456.8,270.2 L460.6,278.1 L463.3,287.1 L465.0,297.1 L465.6,307.9 L465.0,319.3 L463.4,331.2 L460.6,343.2 L456.8,355.3 L452.1,367.2Z" fill="none" stroke="#0a0a0a" stroke-width="10.5"/><path d="M474.2,158.1 L304.9,71.9 L293.1,67.1 L280.4,64.4 L267.0,63.7 L253.1,65.2 L238.6,68.6 L223.9,74.1 L209.1,81.6 L194.3,90.9 L179.7,102.0 L165.4,114.7 L151.7,129.0 L138.7,144.6 L126.4,161.4 L115.1,179.2 L104.9,197.8 L95.9,217.0 L88.1,236.6 L81.7,256.4 L76.7,276.1 L73.3,295.6 L71.3,314.6 L70.9,332.9 L72.1,350.4 L74.8,366.8 L79.0,381.9 L84.7,395.6 L91.7,407.8 L100.1,418.2 L109.8,426.9 L120.5,433.6 L289.8,519.9" fill="none" stroke="#0a0a0a"/></g>
<g transform="translate(97.72631387855134,617.3293727875102) scale(0.09077)" stroke-width="11.02" ><path d="M474.2,158.1 L304.9,71.9 L293.1,67.1 L280.4,64.4 L267.0,63.7 L253.1,65.2 L238.6,68.6 L223.9,74.1 L209.1,81.6 L194.3,90.9 L179.7,102.0 L165.4,114.7 L151.7,129.0 L138.7,144.6 L126.4,161.4 L115.1,179.2 L104.9,197.8 L95.9,217.0 L88.1,236.6 L81.7,256.4 L76.7,276.1 L73.3,295.6 L71.3,314.6 L70.9,332.9 L72.1,350.4 L74.8,366.8 L79.0,381.9 L84.7,395.6 L91.7,407.8 L100.1,418.2 L109.8,426.9 L120.5,433.6 L289.8,519.9 Z" fill="#fff" stroke="none"/><path d="M489.8,393.9 L476.9,417.1 L462.3,438.9 L446.3,459.0 L429.3,477.0 L411.4,492.7 L393.1,505.7 L374.5,515.9 L356.1,523.1 L338.1,527.1 L320.9,527.9 L304.7,525.5 L289.8,519.9 L276.6,511.2 L265.1,499.5 L255.6,485.1 L248.3,468.2 L243.3,449.1 L240.6,428.1 L240.4,405.5 L242.6,381.9 L247.1,357.5 L254.0,332.8 L263.1,308.1 L274.2,284.1 L287.1,260.9 L301.7,239.1 L317.7,219.0 L334.7,201.0 L352.6,185.3 L370.9,172.3 L389.5,162.1 L407.9,154.9 L425.9,150.9 L443.1,150.1 L459.3,152.5 L474.2,158.1 L487.4,166.8 L498.9,178.5 L508.4,192.9 L515.7,209.8 L520.7,228.9 L523.4,249.9 L523.6,272.5 L521.4,296.1 L516.9,320.5 L510.0,345.2 L500.9,369.9 L489.8,393.9Z" fill="#fff" stroke="#0a0a0a"/><path d="M482.8,380.6 L473.8,398.8 L463.5,416.0 L452.1,431.9 L439.6,446.3 L426.5,458.9 L412.8,469.4 L398.8,477.9 L384.8,483.9 L371.0,487.6 L357.6,488.8 L344.8,487.4 L333.0,483.6 L322.2,477.3 L312.6,468.8 L304.5,458.0 L298.0,445.3 L293.2,430.8 L290.1,414.8 L288.8,397.5 L289.3,379.3 L291.7,360.5 L295.9,341.3 L301.7,322.2 L309.2,303.4 L318.2,285.2 L328.5,268.0 L339.9,252.1 L352.4,237.7 L365.5,225.1 L379.2,214.6 L393.2,206.1 L407.2,200.1 L421.0,196.4 L434.4,195.2 L447.2,196.6 L459.0,200.4 L469.8,206.7 L479.4,215.2 L487.5,226.0 L494.0,238.7 L498.8,253.2 L501.9,269.2 L503.2,286.5 L502.7,304.7 L500.3,323.5 L496.1,342.7 L490.3,361.8 L482.8,380.6Z" fill="none" stroke="#0a0a0a" stroke-width="10.5"/><path d="M469.3,373.3 L462.1,388.1 L453.7,402.0 L444.4,415.0 L434.3,426.7 L423.6,436.9 L412.5,445.5 L401.2,452.4 L389.8,457.3 L378.6,460.3 L367.7,461.3 L357.4,460.2 L347.8,457.1 L339.0,452.0 L331.3,445.1 L324.7,436.4 L319.4,426.0 L315.5,414.3 L313.0,401.2 L312.0,387.2 L312.5,372.4 L314.4,357.1 L317.8,341.5 L322.6,326.0 L328.7,310.7 L335.9,295.9 L344.3,282.0 L353.6,269.0 L363.7,257.3 L374.4,247.1 L385.5,238.5 L396.8,231.6 L408.2,226.7 L419.4,223.7 L430.3,222.7 L440.6,223.8 L450.2,226.9 L459.0,232.0 L466.7,238.9 L473.3,247.6 L478.6,258.0 L482.5,269.7 L485.0,282.8 L486.0,296.8 L485.5,311.6 L483.6,326.9 L480.2,342.5 L475.4,358.0 L469.3,373.3Z" fill="none" stroke="#0a0a0a" stroke-width="10.5"/><path d="M452.1,367.2 L446.4,378.7 L440.0,389.6 L432.9,399.7 L425.2,408.8 L417.0,416.9 L408.6,423.7 L400.1,429.1 L391.5,433.1 L383.1,435.6 L375.0,436.5 L367.3,435.8 L360.1,433.5 L353.7,429.7 L348.0,424.5 L343.2,417.8 L339.4,409.9 L336.7,400.9 L335.0,390.9 L334.4,380.1 L335.0,368.7 L336.6,356.8 L339.4,344.8 L343.2,332.7 L347.9,320.8 L353.6,309.3 L360.0,298.4 L367.1,288.3 L374.8,279.2 L383.0,271.1 L391.4,264.3 L399.9,258.9 L408.5,254.9 L416.9,252.4 L425.0,251.5 L432.7,252.2 L439.9,254.5 L446.3,258.3 L452.0,263.5 L456.8,270.2 L460.6,278.1 L463.3,287.1 L465.0,297.1 L465.6,307.9 L465.0,319.3 L463.4,331.2 L460.6,343.2 L456.8,355.3 L452.1,367.2Z" fill="none" stroke="#0a0a0a" stroke-width="10.5"/><path d="M474.2,158.1 L304.9,71.9 L293.1,67.1 L280.4,64.4 L267.0,63.7 L253.1,65.2 L238.6,68.6 L223.9,74.1 L209.1,81.6 L194.3,90.9 L179.7,102.0 L165.4,114.7 L151.7,129.0 L138.7,144.6 L126.4,161.4 L115.1,179.2 L104.9,197.8 L95.9,217.0 L88.1,236.6 L81.7,256.4 L76.7,276.1 L73.3,295.6 L71.3,314.6 L70.9,332.9 L72.1,350.4 L74.8,366.8 L79.0,381.9 L84.7,395.6 L91.7,407.8 L100.1,418.2 L109.8,426.9 L120.5,433.6 L289.8,519.9" fill="none" stroke="#0a0a0a"/></g>
<g transform="translate(336.7263138785513,752.7293727875102) scale(0.09077)" stroke-width="11.02" ><path d="M474.2,158.1 L304.9,71.9 L293.1,67.1 L280.4,64.4 L267.0,63.7 L253.1,65.2 L238.6,68.6 L223.9,74.1 L209.1,81.6 L194.3,90.9 L179.7,102.0 L165.4,114.7 L151.7,129.0 L138.7,144.6 L126.4,161.4 L115.1,179.2 L104.9,197.8 L95.9,217.0 L88.1,236.6 L81.7,256.4 L76.7,276.1 L73.3,295.6 L71.3,314.6 L70.9,332.9 L72.1,350.4 L74.8,366.8 L79.0,381.9 L84.7,395.6 L91.7,407.8 L100.1,418.2 L109.8,426.9 L120.5,433.6 L289.8,519.9 Z" fill="#fff" stroke="none"/><path d="M489.8,393.9 L476.9,417.1 L462.3,438.9 L446.3,459.0 L429.3,477.0 L411.4,492.7 L393.1,505.7 L374.5,515.9 L356.1,523.1 L338.1,527.1 L320.9,527.9 L304.7,525.5 L289.8,519.9 L276.6,511.2 L265.1,499.5 L255.6,485.1 L248.3,468.2 L243.3,449.1 L240.6,428.1 L240.4,405.5 L242.6,381.9 L247.1,357.5 L254.0,332.8 L263.1,308.1 L274.2,284.1 L287.1,260.9 L301.7,239.1 L317.7,219.0 L334.7,201.0 L352.6,185.3 L370.9,172.3 L389.5,162.1 L407.9,154.9 L425.9,150.9 L443.1,150.1 L459.3,152.5 L474.2,158.1 L487.4,166.8 L498.9,178.5 L508.4,192.9 L515.7,209.8 L520.7,228.9 L523.4,249.9 L523.6,272.5 L521.4,296.1 L516.9,320.5 L510.0,345.2 L500.9,369.9 L489.8,393.9Z" fill="#fff" stroke="#0a0a0a"/><path d="M482.8,380.6 L473.8,398.8 L463.5,416.0 L452.1,431.9 L439.6,446.3 L426.5,458.9 L412.8,469.4 L398.8,477.9 L384.8,483.9 L371.0,487.6 L357.6,488.8 L344.8,487.4 L333.0,483.6 L322.2,477.3 L312.6,468.8 L304.5,458.0 L298.0,445.3 L293.2,430.8 L290.1,414.8 L288.8,397.5 L289.3,379.3 L291.7,360.5 L295.9,341.3 L301.7,322.2 L309.2,303.4 L318.2,285.2 L328.5,268.0 L339.9,252.1 L352.4,237.7 L365.5,225.1 L379.2,214.6 L393.2,206.1 L407.2,200.1 L421.0,196.4 L434.4,195.2 L447.2,196.6 L459.0,200.4 L469.8,206.7 L479.4,215.2 L487.5,226.0 L494.0,238.7 L498.8,253.2 L501.9,269.2 L503.2,286.5 L502.7,304.7 L500.3,323.5 L496.1,342.7 L490.3,361.8 L482.8,380.6Z" fill="none" stroke="#0a0a0a" stroke-width="10.5"/><path d="M469.3,373.3 L462.1,388.1 L453.7,402.0 L444.4,415.0 L434.3,426.7 L423.6,436.9 L412.5,445.5 L401.2,452.4 L389.8,457.3 L378.6,460.3 L367.7,461.3 L357.4,460.2 L347.8,457.1 L339.0,452.0 L331.3,445.1 L324.7,436.4 L319.4,426.0 L315.5,414.3 L313.0,401.2 L312.0,387.2 L312.5,372.4 L314.4,357.1 L317.8,341.5 L322.6,326.0 L328.7,310.7 L335.9,295.9 L344.3,282.0 L353.6,269.0 L363.7,257.3 L374.4,247.1 L385.5,238.5 L396.8,231.6 L408.2,226.7 L419.4,223.7 L430.3,222.7 L440.6,223.8 L450.2,226.9 L459.0,232.0 L466.7,238.9 L473.3,247.6 L478.6,258.0 L482.5,269.7 L485.0,282.8 L486.0,296.8 L485.5,311.6 L483.6,326.9 L480.2,342.5 L475.4,358.0 L469.3,373.3Z" fill="none" stroke="#0a0a0a" stroke-width="10.5"/><path d="M452.1,367.2 L446.4,378.7 L440.0,389.6 L432.9,399.7 L425.2,408.8 L417.0,416.9 L408.6,423.7 L400.1,429.1 L391.5,433.1 L383.1,435.6 L375.0,436.5 L367.3,435.8 L360.1,433.5 L353.7,429.7 L348.0,424.5 L343.2,417.8 L339.4,409.9 L336.7,400.9 L335.0,390.9 L334.4,380.1 L335.0,368.7 L336.6,356.8 L339.4,344.8 L343.2,332.7 L347.9,320.8 L353.6,309.3 L360.0,298.4 L367.1,288.3 L374.8,279.2 L383.0,271.1 L391.4,264.3 L399.9,258.9 L408.5,254.9 L416.9,252.4 L425.0,251.5 L432.7,252.2 L439.9,254.5 L446.3,258.3 L452.0,263.5 L456.8,270.2 L460.6,278.1 L463.3,287.1 L465.0,297.1 L465.6,307.9 L465.0,319.3 L463.4,331.2 L460.6,343.2 L456.8,355.3 L452.1,367.2Z" fill="none" stroke="#0a0a0a" stroke-width="10.5"/><path d="M474.2,158.1 L304.9,71.9 L293.1,67.1 L280.4,64.4 L267.0,63.7 L253.1,65.2 L238.6,68.6 L223.9,74.1 L209.1,81.6 L194.3,90.9 L179.7,102.0 L165.4,114.7 L151.7,129.0 L138.7,144.6 L126.4,161.4 L115.1,179.2 L104.9,197.8 L95.9,217.0 L88.1,236.6 L81.7,256.4 L76.7,276.1 L73.3,295.6 L71.3,314.6 L70.9,332.9 L72.1,350.4 L74.8,366.8 L79.0,381.9 L84.7,395.6 L91.7,407.8 L100.1,418.2 L109.8,426.9 L120.5,433.6 L289.8,519.9" fill="none" stroke="#0a0a0a"/></g>
<g transform="translate(215,355) scale(0.24963)" stroke-width="4.21" ><path d="M78,200 L300,197 M78,200 L86,209 L300,205 M240,196 L250,170 L258,172 L249,197" fill="none" stroke="#0a0a0a"/><path d="M252,196 L300,155 L335,182 L352,176" fill="none" stroke="#0a0a0a"/><path d="M345,182 C400,165 470,155 520,162 C560,172 590,192 617,210 L674,215" fill="none" stroke="#0a0a0a"/><path d="M372,212 C385,198 395,190 410,194 C430,198 440,208 455,216 L540,186 L470,212" fill="none" stroke="#0a0a0a"/><path d="M617,210 L584,240 C588.5,253.5 620.5,286.8 640.5,298.8 L687,300" fill="none" stroke="#0a0a0a"/><path d="M432,306 L572,240" fill="none" stroke="#0a0a0a"/><path d="M78,203 C55,230 38,265 32,300 L35,375 L55,400 L66,452 L76,462" fill="none" stroke="#0a0a0a"/><path d="M86,212 C66,240 52,270 47,298 M32,300 L47,298" fill="none" stroke="#0a0a0a"/><path d="M100,214 C180,208 300,200 345,212 C385,225 408,270 420,330 L432,420 C436,455 450,490 470,520" fill="none" stroke="#0a0a0a"/><path d="M82,440 C78,380 88,300 118,262 C170,240 290,228 335,240 C375,255 395,300 402,350 L415,440 C420,470 440,500 470,520" fill="none" stroke="#0a0a0a"/><path d="M190,365 L205,320 L250,302 L265,288 L285,292 L290,335 L320,345 C345,360 368,395 378,450" fill="none" stroke="#0a0a0a"/><path d="M434,327 L477,310 C494,320 527,353 552.5,387 L552.5,397 M450.5,400 L470,520" fill="none" stroke="#0a0a0a"/><path d="M450.5,400.2 L550.5,396.8 M450.5,406.8 L547.2,403.5 M552.5,396.8 L552.5,493.5 L633.8,493.5 L637.2,393.5 L552.5,396.8 M640.5,393.5 L653.8,390.2 L660.5,473.5 L633.8,493.5" fill="none" stroke="#0a0a0a"/><path d="M470,520 L665,518 M392,541 L665,541" fill="none" stroke="#0a0a0a"/><path d="M660.8,212 L790.8,215" fill="none" stroke="#0a0a0a"/><path d="M540.8,245 L580.8,236" fill="none" stroke="#0a0a0a"/><path d="M672.8,300 C680.8,270 700.8,240 790.8,222 L835.8,217" fill="none" stroke="#0a0a0a"/><path d="M653.8,500 L673.8,470 C680.8,420 683.8,353 690.8,313 C696.8,287 720.8,262 740.8,257 C780.8,250 807.8,248 837.8,250 L942.8,253 L1003.8,255 L1012.8,260 L1015.8,275" fill="none" stroke="#0a0a0a"/><path d="M686.8,420 C693.8,367 703.8,327 726.8,300 C746.8,283 780.8,268 837.8,259" fill="none" stroke="#0a0a0a"/><path d="M652.8,388 L672.8,384" fill="none" stroke="#0a0a0a"/><path d="M540.8,518 L646.8,518 L653.8,500 M540.8,541 L698.8,541" fill="none" stroke="#0a0a0a"/></g>
<g transform="translate(400,380) scale(0.16642)" stroke-width="6.31" ><path d="M75,172 L140,168 L330,162 L497,159" fill="none" stroke="#0a0a0a"/><path d="M140,177 L330,172 L470,179" fill="none" stroke="#0a0a0a"/><path d="M485,160 L485,122 C487,114 497,114 497,122 L497,166 L470,180" fill="none" stroke="#0a0a0a"/><path d="M330,164 C362,170 385,188 400,212 L410,260 L432,268" fill="none" stroke="#0a0a0a"/><path d="M400,212 C420,200 440,215 440,240 L432,268" fill="none" stroke="#0a0a0a"/><path d="M478,182 L445,282 M468,184 L438,270" fill="none" stroke="#0a0a0a"/><path d="M440,288 L420,310 L285,410 M432,282 L412,300 L275,402" fill="none" stroke="#0a0a0a"/><path d="M-20,352 L300,240 M-18,365 L305,251" fill="none" stroke="#0a0a0a"/><path d="M300,240 L318,248 L342,318 L322,330" fill="none" stroke="#0a0a0a"/><path d="M300,256 L320,312 M310,250 L333,308" fill="none" stroke="#0a0a0a"/><path d="M10,425 L322,330" fill="none" stroke="#0a0a0a"/><path d="M5,372 L16,366 L11,424" fill="none" stroke="#0a0a0a"/><path d="M-81,484 L-5,445 M-75,470 L-10,432" fill="none" stroke="#0a0a0a"/><path d="M-26,368 L-2,360 L4,405 L-10,414 Z" fill="none" stroke="#0a0a0a"/><path d="M335,290 C352,268 382,274 402,300 L386,310 C376,292 356,290 346,302" fill="none" stroke="#0a0a0a"/><path d="M0,280 C40,262 100,245 145,238" fill="none" stroke="#0a0a0a"/></g>
<g transform="translate(280,355) scale(0.10590)" stroke-width="9.92" ><path d="M295,105 L345,110 L352,128 L440,128 L442,160 C420,150 400,165 405,195 C410,225 430,235 442,225 L440,240 L400,235 L350,215 L340,235 L290,240 L275,175 L265,150 L290,145 Z" fill="none" stroke="#0a0a0a"/><path d="M435.0,192.0 L434.9,193.3 L434.7,194.6 L434.2,195.8 L433.7,197.0 L432.9,198.1 L432.1,199.1 L431.1,199.9 L430.0,200.7 L428.8,201.2 L427.6,201.7 L426.3,201.9 L425.0,202.0 L423.7,201.9 L422.4,201.7 L421.2,201.2 L420.0,200.7 L418.9,199.9 L417.9,199.1 L417.1,198.1 L416.3,197.0 L415.8,195.8 L415.3,194.6 L415.1,193.3 L415.0,192.0 L415.1,190.7 L415.3,189.4 L415.8,188.2 L416.3,187.0 L417.1,185.9 L417.9,184.9 L418.9,184.1 L420.0,183.3 L421.2,182.8 L422.4,182.3 L423.7,182.1 L425.0,182.0 L426.3,182.1 L427.6,182.3 L428.8,182.8 L430.0,183.3 L431.1,184.1 L432.1,184.9 L432.9,185.9 L433.7,187.0 L434.2,188.2 L434.7,189.4 L434.9,190.7 L435.0,192.0Z" fill="none" stroke="#0a0a0a"/><path d="M447,178 L490,180 M447,215 L488,223" fill="none" stroke="#0a0a0a"/><path d="M515.0,202.0 L514.8,204.9 L514.3,207.7 L513.5,210.4 L512.3,213.0 L510.9,215.4 L509.1,217.6 L507.2,219.5 L505.0,221.1 L502.7,222.3 L500.2,223.3 L497.6,223.8 L495.0,224.0 L492.4,223.8 L489.8,223.3 L487.3,222.3 L485.0,221.1 L482.8,219.5 L480.9,217.6 L479.1,215.4 L477.7,213.0 L476.5,210.4 L475.7,207.7 L475.2,204.9 L475.0,202.0 L475.2,199.1 L475.7,196.3 L476.5,193.6 L477.7,191.0 L479.1,188.6 L480.9,186.4 L482.8,184.5 L485.0,182.9 L487.3,181.7 L489.8,180.7 L492.4,180.2 L495.0,180.0 L497.6,180.2 L500.2,180.7 L502.7,181.7 L505.0,182.9 L507.2,184.5 L509.1,186.4 L510.9,188.6 L512.3,191.0 L513.5,193.6 L514.3,196.3 L514.8,199.1 L515.0,202.0Z" fill="none" stroke="#0a0a0a"/><path d="M265,150 C250,190 240,230 240,290 L215,360 L180,430" fill="none" stroke="#0a0a0a"/><path d="M285,245 L262,380 C262,392 278,392 282,380 L325,250" fill="none" stroke="#0a0a0a"/><path d="M300,250 L276,372" fill="none" stroke="#0a0a0a"/><path d="M325,250 L310,310 L330,370 L345,395" fill="none" stroke="#0a0a0a"/><path d="M335,400 L375,398 L368,420 L345,422 Z M355,422 L352,462" fill="none" stroke="#0a0a0a"/><path d="M444.0,192.0 L443.8,194.5 L443.4,196.9 L442.6,199.3 L441.5,201.5 L440.1,203.6 L438.4,205.4 L436.6,207.1 L434.5,208.5 L432.3,209.6 L429.9,210.4 L427.5,210.8 L425.0,211.0 L422.5,210.8 L420.1,210.4 L417.7,209.6 L415.5,208.5 L413.4,207.1 L411.6,205.4 L409.9,203.6 L408.5,201.5 L407.4,199.3 L406.6,196.9 L406.2,194.5 L406.0,192.0 L406.2,189.5 L406.6,187.1 L407.4,184.7 L408.5,182.5 L409.9,180.4 L411.6,178.6 L413.4,176.9 L415.5,175.5 L417.7,174.4 L420.1,173.6 L422.5,173.2 L425.0,173.0 L427.5,173.2 L429.9,173.6 L432.3,174.4 L434.5,175.5 L436.6,176.9 L438.4,178.6 L440.1,180.4 L441.5,182.5 L442.6,184.7 L443.4,187.1 L443.8,189.5 L444.0,192.0Z" fill="none" stroke="#0a0a0a" stroke-width="12"/></g>
<g transform="translate(335,140) scale(0.15129)" stroke-width="6.61" ><path d="M414.7,53.1 L414.7,55.8 L414.2,58.4 L413.1,61.1 L411.4,63.7 L409.2,66.2 L406.5,68.6 L403.3,70.7 L399.7,72.7 L395.8,74.4 L391.7,75.9 L387.3,77.0 L382.8,77.8 L378.2,78.3 L373.7,78.4 L369.3,78.2 L365.1,77.6 L361.1,76.7 L357.5,75.4 L354.2,73.9 L351.4,72.1 L349.0,70.1 L347.2,67.8 L346.0,65.4 L345.3,62.9 L345.3,60.2 L345.8,57.6 L346.9,54.9 L348.6,52.3 L350.8,49.8 L353.5,47.4 L356.7,45.3 L360.3,43.3 L364.2,41.6 L368.3,40.1 L372.7,39.0 L377.2,38.2 L381.8,37.7 L386.3,37.6 L390.7,37.8 L394.9,38.4 L398.9,39.3 L402.5,40.6 L405.8,42.1 L408.6,43.9 L411.0,45.9 L412.8,48.2 L414.0,50.6 L414.7,53.1Z" fill="none" stroke="#0a0a0a"/><path d="M393.8,57.8 L393.9,59.0 L393.6,60.2 L393.1,61.4 L392.3,62.5 L391.3,63.7 L390.1,64.7 L388.6,65.7 L387.0,66.6 L385.2,67.4 L383.3,68.0 L381.3,68.5 L379.3,68.9 L377.2,69.1 L375.1,69.2 L373.1,69.1 L371.2,68.8 L369.3,68.4 L367.7,67.9 L366.2,67.2 L364.9,66.4 L363.8,65.5 L363.0,64.5 L362.5,63.4 L362.2,62.2 L362.1,61.0 L362.4,59.8 L362.9,58.6 L363.7,57.5 L364.7,56.3 L365.9,55.3 L367.4,54.3 L369.0,53.4 L370.8,52.6 L372.7,52.0 L374.7,51.5 L376.7,51.1 L378.8,50.9 L380.9,50.8 L382.9,50.9 L384.8,51.2 L386.7,51.6 L388.3,52.1 L389.8,52.8 L391.1,53.6 L392.2,54.5 L393.0,55.5 L393.5,56.6 L393.8,57.8Z" fill="none" stroke="#0a0a0a"/><path d="M345,62 L350,98 C365,128 402,130 416,108 L415,56" fill="none" stroke="#0a0a0a"/><path d="M352,48 C330,35 300,55 302,85 C304,105 325,112 345,105" fill="none" stroke="#0a0a0a"/><path d="M561.7,3.1 L561.7,5.6 L561.2,8.2 L560.0,10.7 L558.3,13.2 L556.1,15.6 L553.4,17.9 L550.2,20.0 L546.6,21.9 L542.7,23.5 L538.5,24.9 L534.1,26.0 L529.6,26.8 L525.1,27.3 L520.6,27.4 L516.2,27.2 L512.0,26.7 L508.0,25.9 L504.4,24.7 L501.1,23.3 L498.3,21.6 L496.0,19.7 L494.2,17.6 L493.0,15.3 L492.3,12.9 L492.3,10.4 L492.8,7.8 L494.0,5.3 L495.7,2.8 L497.9,0.4 L500.6,-1.9 L503.8,-4.0 L507.4,-5.9 L511.3,-7.5 L515.5,-8.9 L519.9,-10.0 L524.4,-10.8 L528.9,-11.3 L533.4,-11.4 L537.8,-11.2 L542.0,-10.7 L546.0,-9.9 L549.6,-8.7 L552.9,-7.3 L555.7,-5.6 L558.0,-3.7 L559.8,-1.6 L561.0,0.7 L561.7,3.1Z" fill="none" stroke="#0a0a0a"/><path d="M539.9,7.9 L539.9,9.0 L539.6,10.0 L539.1,11.1 L538.4,12.2 L537.5,13.2 L536.3,14.1 L534.9,15.0 L533.4,15.8 L531.7,16.5 L529.9,17.1 L528.0,17.6 L526.1,17.9 L524.2,18.1 L522.2,18.2 L520.3,18.1 L518.5,17.9 L516.8,17.6 L515.3,17.1 L513.9,16.5 L512.7,15.8 L511.7,15.0 L510.9,14.1 L510.4,13.1 L510.1,12.1 L510.1,11.0 L510.4,10.0 L510.9,8.9 L511.6,7.8 L512.5,6.8 L513.7,5.9 L515.1,5.0 L516.6,4.2 L518.3,3.5 L520.1,2.9 L522.0,2.4 L523.9,2.1 L525.8,1.9 L527.8,1.8 L529.7,1.9 L531.5,2.1 L533.2,2.4 L534.7,2.9 L536.1,3.5 L537.3,4.2 L538.3,5.0 L539.1,5.9 L539.6,6.9 L539.9,7.9Z" fill="none" stroke="#0a0a0a"/><path d="M492,12 L496,52 C510,80 548,82 562,60 L562,6" fill="none" stroke="#0a0a0a"/><path d="M562,40 C592,50 618,95 600,148" fill="none" stroke="#0a0a0a"/><path d="M566,58 C588,70 604,105 590,150" fill="none" stroke="#0a0a0a"/><path d="M320,128 C360,130 392,175 385,235" fill="none" stroke="#0a0a0a"/><path d="M310,133 C347,138 374,180 368,234" fill="none" stroke="#0a0a0a"/><path d="M300,143 C335,150 357,190 350,236" fill="none" stroke="#0a0a0a"/><path d="M343.4,186.6 L344.5,192.6 L345.1,198.7 L345.2,204.6 L344.9,210.3 L344.1,215.7 L342.9,220.7 L341.2,225.2 L339.2,229.1 L336.8,232.4 L334.0,235.0 L331.0,236.9 L327.8,238.0 L324.4,238.3 L320.9,237.8 L317.3,236.5 L313.7,234.5 L310.3,231.8 L306.9,228.3 L303.8,224.3 L300.9,219.7 L298.2,214.6 L296.0,209.1 L294.1,203.4 L292.6,197.4 L291.5,191.4 L290.9,185.3 L290.8,179.4 L291.1,173.7 L291.9,168.3 L293.1,163.3 L294.8,158.8 L296.8,154.9 L299.2,151.6 L302.0,149.0 L305.0,147.1 L308.2,146.0 L311.6,145.7 L315.1,146.2 L318.7,147.5 L322.3,149.5 L325.7,152.2 L329.1,155.7 L332.2,159.7 L335.1,164.3 L337.8,169.4 L340.0,174.9 L341.9,180.6 L343.4,186.6Z" fill="none" stroke="#0a0a0a"/><path d="M292,205 L215,240 M308,238 L258,262" fill="none" stroke="#0a0a0a"/><path d="M258.8,317.3 L256.3,323.3 L253.3,329.1 L249.7,334.4 L245.7,339.2 L241.4,343.4 L236.8,346.9 L232.0,349.8 L227.1,351.8 L222.1,353.1 L217.2,353.6 L212.5,353.2 L207.9,352.0 L203.6,350.0 L199.7,347.2 L196.3,343.7 L193.3,339.5 L190.8,334.8 L189.0,329.5 L187.8,323.8 L187.2,317.8 L187.2,311.6 L187.9,305.3 L189.2,298.9 L191.2,292.7 L193.7,286.7 L196.7,280.9 L200.3,275.6 L204.3,270.8 L208.6,266.6 L213.2,263.1 L218.0,260.2 L222.9,258.2 L227.9,256.9 L232.8,256.4 L237.5,256.8 L242.1,258.0 L246.4,260.0 L250.3,262.8 L253.7,266.3 L256.7,270.5 L259.2,275.2 L261.0,280.5 L262.2,286.2 L262.8,292.2 L262.8,298.4 L262.1,304.7 L260.8,311.1 L258.8,317.3Z" fill="none" stroke="#0a0a0a"/><path d="M236.1,310.1 L234.9,313.0 L233.5,315.8 L231.9,318.4 L230.1,320.7 L228.2,322.8 L226.2,324.6 L224.1,326.0 L221.9,327.1 L219.8,327.8 L217.7,328.1 L215.7,328.0 L213.8,327.6 L212.0,326.7 L210.4,325.5 L209.0,323.9 L207.8,322.0 L206.9,319.8 L206.2,317.3 L205.8,314.7 L205.7,311.8 L205.8,308.9 L206.3,305.9 L207.0,302.9 L207.9,299.9 L209.1,297.0 L210.5,294.2 L212.1,291.6 L213.9,289.3 L215.8,287.2 L217.8,285.4 L219.9,284.0 L222.1,282.9 L224.2,282.2 L226.3,281.9 L228.3,282.0 L230.2,282.4 L232.0,283.3 L233.6,284.5 L235.0,286.1 L236.2,288.0 L237.1,290.2 L237.8,292.7 L238.2,295.3 L238.3,298.2 L238.2,301.1 L237.7,304.1 L237.0,307.1 L236.1,310.1Z" fill="none" stroke="#0a0a0a"/><path d="M193,340 C215,382 262,372 274,322" fill="none" stroke="#0a0a0a"/><path d="M188,335 C205,370 215,400 195,440 L112,592" fill="none" stroke="#0a0a0a"/><path d="M214,378 C226,400 222,425 208,450 L140,612" fill="none" stroke="#0a0a0a"/><path d="M484.1,425.1 L475.1,442.5 L464.8,459.0 L453.3,474.1 L440.9,487.7 L427.7,499.6 L414.1,509.5 L400.1,517.3 L386.1,522.8 L372.4,526.0 L359.1,526.7 L346.4,525.0 L334.6,520.9 L323.9,514.5 L314.5,505.9 L306.5,495.2 L300.1,482.7 L295.3,468.4 L292.3,452.7 L291.1,435.9 L291.7,418.2 L294.2,399.9 L298.4,381.4 L304.4,362.9 L311.9,344.9 L320.9,327.5 L331.2,311.0 L342.7,295.9 L355.1,282.3 L368.3,270.4 L381.9,260.5 L395.9,252.7 L409.9,247.2 L423.6,244.0 L436.9,243.3 L449.6,245.0 L461.4,249.1 L472.1,255.5 L481.5,264.1 L489.5,274.8 L495.9,287.3 L500.7,301.6 L503.7,317.3 L504.9,334.1 L504.3,351.8 L501.8,370.1 L497.6,388.6 L491.6,407.1 L484.1,425.1Z" fill="none" stroke="#0a0a0a"/><path d="M409.7,481.2 L404.4,485.2 L399.0,488.8 L393.6,492.0 L388.2,494.7 L382.8,497.0 L377.4,498.9 L372.1,500.2 L366.9,501.2 L361.8,501.6 L356.8,501.6 L351.9,501.1 L347.2,500.1 L342.7,498.7 L338.4,496.8 L334.3,494.5 L330.4,491.7 L326.8,488.4 L323.5,484.8 L320.4,480.8 L317.6,476.3 L315.1,471.5 L313.0,466.4 L311.1,460.9 L309.6,455.1 L308.4,449.1 L307.6,442.7 L307.1,436.2 L306.9,429.4 L307.1,422.4 L307.6,415.3 L308.5,408.1 L309.7,400.8 L311.2,393.4 L313.1,386.0 L315.2,378.6 L317.7,371.2 L320.5,363.8 L323.6,356.6 L327.0,349.5 L330.6,342.5 L334.5,335.6 L338.6,329.0 L342.9,322.6 L347.4,316.5 L352.1,310.6 L357.0,305.1 L362.0,299.8 L367.1,294.9" fill="none" stroke="#0a0a0a"/><path d="M395.2,473.8 L391.1,476.1 L387.0,478.1 L383.0,479.7 L378.9,481.1 L375.0,482.1 L371.1,482.8 L367.2,483.2 L363.5,483.3 L359.8,483.1 L356.3,482.5 L352.9,481.6 L349.6,480.4 L346.4,478.9 L343.4,477.1 L340.6,475.0 L337.9,472.6 L335.4,469.9 L333.1,466.9 L331.0,463.6 L329.1,460.1 L327.4,456.3 L325.9,452.4 L324.6,448.1 L323.6,443.7 L322.7,439.1 L322.1,434.3 L321.8,429.3 L321.6,424.2 L321.7,418.9 L322.0,413.5 L322.5,408.1 L323.3,402.5 L324.3,396.9 L325.5,391.2 L326.9,385.5 L328.6,379.8 L330.4,374.1 L332.5,368.4 L334.7,362.8 L337.2,357.2 L339.8,351.7 L342.6,346.3 L345.5,341.0 L348.6,335.9 L351.9,330.9 L355.2,326.0 L358.7,321.4 L362.4,316.9" fill="none" stroke="#0a0a0a"/><path d="M385.0,462.8 L382.1,463.8 L379.3,464.7 L376.5,465.3 L373.7,465.7 L371.1,466.0 L368.4,466.0 L365.9,465.8 L363.4,465.4 L361.0,464.8 L358.6,464.0 L356.4,463.0 L354.2,461.8 L352.2,460.4 L350.3,458.8 L348.4,457.0 L346.7,455.1 L345.1,452.9 L343.6,450.6 L342.3,448.1 L341.1,445.4 L340.0,442.6 L339.1,439.6 L338.2,436.5 L337.6,433.3 L337.0,429.9 L336.6,426.4 L336.4,422.8 L336.3,419.1 L336.3,415.3 L336.5,411.4 L336.8,407.4 L337.3,403.4 L337.9,399.3 L338.7,395.2 L339.6,391.0 L340.6,386.8 L341.8,382.6 L343.0,378.4 L344.5,374.1 L346.0,369.9 L347.7,365.8 L349.4,361.6 L351.3,357.5 L353.3,353.5 L355.4,349.5 L357.6,345.6 L359.9,341.7 L362.3,338.0" fill="none" stroke="#0a0a0a"/><path d="M480,240 L500,225 C530,235 562,255 558,285 C550,312 530,326 514,320" fill="none" stroke="#0a0a0a"/><path d="M539.1,294.2 L538.1,296.1 L537.0,297.8 L535.8,299.5 L534.5,300.9 L533.1,302.2 L531.6,303.2 L530.2,304.1 L528.7,304.7 L527.2,305.0 L525.8,305.1 L524.5,304.9 L523.2,304.5 L522.1,303.8 L521.1,302.9 L520.3,301.8 L519.6,300.4 L519.1,298.9 L518.8,297.3 L518.7,295.5 L518.8,293.6 L519.0,291.6 L519.5,289.7 L520.1,287.7 L520.9,285.8 L521.9,283.9 L523.0,282.2 L524.2,280.5 L525.5,279.1 L526.9,277.8 L528.4,276.8 L529.8,275.9 L531.3,275.3 L532.8,275.0 L534.2,274.9 L535.5,275.1 L536.8,275.5 L537.9,276.2 L538.9,277.1 L539.7,278.2 L540.4,279.6 L540.9,281.1 L541.2,282.7 L541.3,284.5 L541.2,286.4 L541.0,288.4 L540.5,290.3 L539.9,292.3 L539.1,294.2Z" fill="none" stroke="#0a0a0a"/><path d="M480,240 C500,260 512,290 512,318" fill="none" stroke="#0a0a0a"/><path d="M112.0,592.5 C80.0,585.5 45.0,610.5 42.0,645.5 C40.0,680.5 70.0,702.5 100.0,702.5" fill="none" stroke="#0a0a0a"/><path d="M148.2,665.8 L146.3,670.3 L143.9,674.7 L141.1,678.6 L137.9,682.2 L134.5,685.4 L130.7,688.0 L126.9,690.1 L122.8,691.6 L118.8,692.4 L114.7,692.6 L110.8,692.2 L107.0,691.2 L103.4,689.6 L100.1,687.3 L97.2,684.6 L94.6,681.3 L92.5,677.6 L90.9,673.5 L89.7,669.1 L89.1,664.5 L89.0,659.7 L89.4,654.8 L90.4,650.0 L91.8,645.2 L93.7,640.7 L96.1,636.3 L98.9,632.4 L102.1,628.8 L105.5,625.6 L109.3,623.0 L113.1,620.9 L117.2,619.4 L121.2,618.6 L125.3,618.4 L129.2,618.8 L133.0,619.8 L136.6,621.4 L139.9,623.7 L142.8,626.4 L145.4,629.7 L147.5,633.4 L149.1,637.5 L150.3,641.9 L150.9,646.5 L151.0,651.3 L150.6,656.2 L149.6,661.0 L148.2,665.8Z" fill="none" stroke="#0a0a0a"/><path d="M130.2,662.9 L129.3,665.1 L128.2,667.2 L126.9,669.1 L125.5,670.8 L123.9,672.3 L122.3,673.6 L120.6,674.6 L118.8,675.4 L117.0,675.8 L115.2,676.0 L113.5,675.9 L111.8,675.4 L110.3,674.7 L108.9,673.7 L107.6,672.4 L106.6,670.9 L105.7,669.2 L105.0,667.3 L104.6,665.3 L104.3,663.1 L104.4,660.9 L104.6,658.6 L105.1,656.3 L105.8,654.1 L106.7,651.9 L107.8,649.8 L109.1,647.9 L110.5,646.2 L112.1,644.7 L113.7,643.4 L115.4,642.4 L117.2,641.6 L119.0,641.2 L120.8,641.0 L122.5,641.1 L124.2,641.6 L125.7,642.3 L127.1,643.3 L128.4,644.6 L129.4,646.1 L130.3,647.8 L131.0,649.7 L131.4,651.7 L131.7,653.9 L131.6,656.1 L131.4,658.4 L130.9,660.7 L130.2,662.9Z" fill="none" stroke="#0a0a0a"/><path d="M150.0,620.5 C166.0,630.5 168.0,662.5 158.0,682.5" fill="none" stroke="#0a0a0a"/><path d="M206.5,678.6 L205.8,680.3 L204.9,681.9 L204.0,683.4 L202.9,684.7 L201.8,686.0 L200.6,687.0 L199.3,687.8 L198.1,688.4 L196.8,688.8 L195.6,689.0 L194.4,688.9 L193.2,688.7 L192.1,688.1 L191.2,687.4 L190.3,686.5 L189.6,685.4 L189.1,684.1 L188.6,682.6 L188.4,681.1 L188.3,679.4 L188.4,677.7 L188.6,675.9 L189.0,674.2 L189.5,672.4 L190.2,670.7 L191.1,669.1 L192.0,667.6 L193.1,666.3 L194.2,665.0 L195.4,664.0 L196.7,663.2 L197.9,662.6 L199.2,662.2 L200.4,662.0 L201.6,662.1 L202.8,662.3 L203.9,662.9 L204.8,663.6 L205.7,664.5 L206.4,665.6 L206.9,666.9 L207.4,668.4 L207.6,669.9 L207.7,671.6 L207.6,673.3 L207.4,675.1 L207.0,676.8 L206.5,678.6Z" fill="none" stroke="#0a0a0a"/><path d="M100.0,702.5 L200.0,718.5 L268.0,655.5 L290.0,678.5" fill="none" stroke="#0a0a0a"/><path d="M382.0,725.4 L384.4,733.1 L385.9,741.1 L386.5,749.0 L386.3,756.8 L385.2,764.4 L383.2,771.6 L380.4,778.3 L376.9,784.4 L372.6,789.8 L367.6,794.3 L362.2,798.0 L356.2,800.8 L349.9,802.5 L343.3,803.2 L336.6,802.9 L329.9,801.5 L323.2,799.1 L316.8,795.8 L310.6,791.5 L304.9,786.4 L299.7,780.6 L295.1,774.1 L291.2,767.1 L288.0,759.6 L285.6,751.9 L284.1,743.9 L283.5,736.0 L283.7,728.2 L284.8,720.6 L286.8,713.4 L289.6,706.7 L293.1,700.6 L297.4,695.2 L302.4,690.7 L307.8,687.0 L313.8,684.2 L320.1,682.5 L326.7,681.8 L333.4,682.1 L340.1,683.5 L346.8,685.9 L353.2,689.2 L359.4,693.5 L365.1,698.6 L370.3,704.4 L374.9,710.9 L378.8,717.9 L382.0,725.4Z" fill="none" stroke="#0a0a0a"/><path d="M361.7,732.5 L363.7,739.0 L365.1,745.6 L365.8,752.2 L365.8,758.7 L365.2,764.9 L363.8,770.9 L361.8,776.4 L359.3,781.3 L356.1,785.7 L352.4,789.3 L348.3,792.2 L343.8,794.4 L339.0,795.6 L333.9,796.1 L328.8,795.6 L323.5,794.3 L318.4,792.2 L313.3,789.2 L308.5,785.6 L304.0,781.2 L299.8,776.2 L296.1,770.7 L292.9,764.8 L290.3,758.5 L288.3,752.0 L286.9,745.4 L286.2,738.8 L286.2,732.3 L286.8,726.1 L288.2,720.1 L290.2,714.6 L292.7,709.7 L295.9,705.3 L299.6,701.7 L303.7,698.8 L308.2,696.6 L313.0,695.4 L318.1,694.9 L323.2,695.4 L328.5,696.7 L333.6,698.8 L338.7,701.8 L343.5,705.4 L348.0,709.8 L352.2,714.8 L355.9,720.3 L359.1,726.2 L361.7,732.5Z" fill="none" stroke="#0a0a0a"/><path d="M340.6,740.3 L342.0,744.9 L343.1,749.6 L343.7,754.2 L343.9,758.8 L343.6,763.2 L342.9,767.3 L341.8,771.1 L340.2,774.5 L338.3,777.5 L336.1,780.0 L333.5,781.9 L330.7,783.3 L327.6,784.0 L324.4,784.2 L321.1,783.8 L317.7,782.7 L314.3,781.1 L311.0,778.9 L307.8,776.2 L304.8,773.0 L302.0,769.4 L299.5,765.4 L297.3,761.2 L295.4,756.7 L294.0,752.1 L292.9,747.4 L292.3,742.8 L292.1,738.2 L292.4,733.8 L293.1,729.7 L294.2,725.9 L295.8,722.5 L297.7,719.5 L299.9,717.0 L302.5,715.1 L305.3,713.7 L308.4,713.0 L311.6,712.8 L314.9,713.2 L318.3,714.3 L321.7,715.9 L325.0,718.1 L328.2,720.8 L331.2,724.0 L334.0,727.6 L336.5,731.6 L338.7,735.8 L340.6,740.3Z" fill="none" stroke="#0a0a0a"/><path d="M352.0,682.5 L558.0,588.5 M372.0,808.5 L602.0,715.5 M558.0,588.5 C605.0,580.5 640.0,635.5 602.0,715.5" fill="none" stroke="#0a0a0a"/><path d="M532.0,620.5 L531.9,622.8 L531.5,625.2 L530.9,627.4 L530.0,629.5 L528.9,631.5 L527.6,633.2 L526.1,634.8 L524.5,636.1 L522.7,637.1 L520.9,637.9 L519.0,638.3 L517.0,638.5 L515.0,638.3 L513.1,637.9 L511.3,637.1 L509.5,636.1 L507.9,634.8 L506.4,633.2 L505.1,631.5 L504.0,629.5 L503.1,627.4 L502.5,625.2 L502.1,622.8 L502.0,620.5 L502.1,618.2 L502.5,615.8 L503.1,613.6 L504.0,611.5 L505.1,609.5 L506.4,607.8 L507.9,606.2 L509.5,604.9 L511.3,603.9 L513.1,603.1 L515.0,602.7 L517.0,602.5 L519.0,602.7 L520.9,603.1 L522.7,603.9 L524.5,604.9 L526.1,606.2 L527.6,607.8 L528.9,609.5 L530.0,611.5 L530.9,613.6 L531.5,615.8 L531.9,618.2 L532.0,620.5Z" fill="none" stroke="#0a0a0a"/><path d="M310.0,525.5 L355.0,668.5 M345.0,520.5 L385.0,652.5 M385.0,652.5 L470.0,612.5 M430.0,510.5 L470.0,612.5" fill="none" stroke="#0a0a0a"/><path d="M415,78 L497,42" fill="none" stroke="#0a0a0a" stroke-dasharray="26 10 5 10"/><path d="M598,150 L395,238" fill="none" stroke="#0a0a0a" stroke-dasharray="26 10 5 10"/><path d="M295,148 C240,140 170,180 140,260 C115,330 120,400 165,435" fill="none" stroke="#0a0a0a" stroke-dasharray="26 10 5 10"/><path d="M300,160 C250,160 200,190 175,250" fill="none" stroke="#0a0a0a" stroke-dasharray="26 10 5 10"/><path d="M175,440 L100,585" fill="none" stroke="#0a0a0a" stroke-dasharray="26 10 5 10"/><path d="M366.6,284.2 L372.6,279.2 L378.7,274.6 L384.9,270.4 L391.1,266.8 L397.3,263.6 L403.6,261.0 L409.8,258.9 L415.9,257.3 L422.0,256.3 L427.9,255.8 L433.7,255.8 L439.4,256.5 L444.8,257.6 L450.1,259.3 L455.1,261.5 L459.9,264.3 L464.4,267.6 L468.6,271.3 L472.5,275.6 L476.0,280.3 L479.3,285.5 L482.1,291.1 L484.6,297.0 L486.7,303.4 L488.5,310.1 L489.8,317.1 L490.7,324.4 L491.3,332.0 L491.4,339.7 L491.1,347.7 L490.4,355.8 L489.3,364.1 L487.8,372.4 L485.9,380.8 L483.6,389.2 L481.0,397.6 L477.9,405.9 L474.6,414.1 L470.9,422.2 L466.8,430.1 L462.5,437.8 L457.9,445.3 L453.0,452.6 L447.9,459.5 L442.5,466.1 L437.0,472.4 L431.3,478.3 L425.4,483.8" fill="none" stroke="#0a0a0a" stroke-dasharray="26 10 5 10"/><path d="M405,285 C420,320 410,400 380,450" fill="none" stroke="#0a0a0a" stroke-dasharray="26 10 5 10"/><path d="M440,285 C455,330 440,410 400,470" fill="none" stroke="#0a0a0a" stroke-dasharray="26 10 5 10"/><path d="M280.0,480.5 L285.0,650.5" fill="none" stroke="#0a0a0a" stroke-dasharray="26 10 5 10"/><path d="M480.0,480.5 L540.0,580.5" fill="none" stroke="#0a0a0a" stroke-dasharray="26 10 5 10"/><path d="M505.0,410.5 L548.0,575.5" fill="none" stroke="#0a0a0a" stroke-dasharray="26 10 5 10"/><path d="M380.0,545.5 L378.0,630.5" fill="none" stroke="#0a0a0a" stroke-dasharray="26 10 5 10"/></g>
<g transform="translate(465,180) scale(0.15129)" stroke-width="6.61" ><path d="M278.9,71.6 L278.8,74.5 L278.0,77.4 L276.6,80.2 L274.6,83.0 L272.0,85.6 L268.8,88.1 L265.2,90.3 L261.1,92.3 L256.6,93.9 L251.9,95.3 L247.0,96.3 L241.9,96.9 L236.8,97.2 L231.8,97.0 L226.9,96.5 L222.2,95.7 L217.9,94.5 L213.9,92.9 L210.3,91.0 L207.3,88.9 L204.8,86.5 L203.0,84.0 L201.7,81.2 L201.1,78.4 L201.2,75.5 L202.0,72.6 L203.4,69.8 L205.4,67.0 L208.0,64.4 L211.2,61.9 L214.8,59.7 L218.9,57.7 L223.4,56.1 L228.1,54.7 L233.0,53.7 L238.1,53.1 L243.2,52.8 L248.2,53.0 L253.1,53.5 L257.8,54.3 L262.1,55.5 L266.1,57.1 L269.7,59.0 L272.7,61.1 L275.2,63.5 L277.0,66.0 L278.3,68.8 L278.9,71.6Z" fill="none" stroke="#0a0a0a"/><path d="M256.9,76.5 L256.9,77.8 L256.6,79.1 L256.0,80.4 L255.1,81.7 L254.0,82.9 L252.6,84.0 L251.0,85.0 L249.2,85.9 L247.3,86.6 L245.2,87.2 L243.1,87.7 L240.9,88.0 L238.7,88.1 L236.5,88.0 L234.3,87.8 L232.3,87.4 L230.4,86.8 L228.6,86.1 L227.1,85.2 L225.8,84.3 L224.7,83.2 L223.9,82.0 L223.3,80.8 L223.1,79.5 L223.1,78.2 L223.4,76.9 L224.0,75.6 L224.9,74.3 L226.0,73.1 L227.4,72.0 L229.0,71.0 L230.8,70.1 L232.7,69.4 L234.8,68.8 L236.9,68.3 L239.1,68.0 L241.3,67.9 L243.5,68.0 L245.7,68.2 L247.7,68.6 L249.6,69.2 L251.4,69.9 L252.9,70.8 L254.2,71.7 L255.3,72.8 L256.1,74.0 L256.7,75.2 L256.9,76.5Z" fill="none" stroke="#0a0a0a"/><path d="M201,80 L208,125 C200,140 192,150 189,162 M279,76 L281,120" fill="none" stroke="#0a0a0a"/><path d="M188.9,151.6 L188.8,154.5 L188.0,157.4 L186.6,160.2 L184.6,163.0 L182.0,165.6 L178.8,168.1 L175.2,170.3 L171.1,172.3 L166.6,173.9 L161.9,175.3 L157.0,176.3 L151.9,176.9 L146.8,177.2 L141.8,177.0 L136.9,176.5 L132.2,175.7 L127.9,174.5 L123.9,172.9 L120.3,171.0 L117.3,168.9 L114.8,166.5 L113.0,164.0 L111.7,161.2 L111.1,158.4 L111.2,155.5 L112.0,152.6 L113.4,149.8 L115.4,147.0 L118.0,144.4 L121.2,141.9 L124.8,139.7 L128.9,137.7 L133.4,136.1 L138.1,134.7 L143.0,133.7 L148.1,133.1 L153.2,132.8 L158.2,133.0 L163.1,133.5 L167.8,134.3 L172.1,135.5 L176.1,137.1 L179.7,139.0 L182.7,141.1 L185.2,143.5 L187.0,146.0 L188.3,148.8 L188.9,151.6Z" fill="none" stroke="#0a0a0a"/><path d="M167.9,156.4 L167.9,157.7 L167.5,159.1 L166.9,160.4 L166.0,161.6 L164.8,162.8 L163.3,163.9 L161.6,164.9 L159.7,165.8 L157.7,166.6 L155.5,167.2 L153.2,167.7 L150.9,168.0 L148.5,168.1 L146.2,168.0 L143.9,167.8 L141.8,167.4 L139.8,166.9 L137.9,166.2 L136.3,165.3 L134.9,164.3 L133.8,163.3 L132.9,162.1 L132.3,160.9 L132.1,159.6 L132.1,158.3 L132.5,156.9 L133.1,155.6 L134.0,154.4 L135.2,153.2 L136.7,152.1 L138.4,151.1 L140.3,150.2 L142.3,149.4 L144.5,148.8 L146.8,148.3 L149.1,148.0 L151.5,147.9 L153.8,148.0 L156.1,148.2 L158.2,148.6 L160.2,149.1 L162.1,149.8 L163.7,150.7 L165.1,151.7 L166.2,152.7 L167.1,153.9 L167.7,155.1 L167.9,156.4Z" fill="none" stroke="#0a0a0a"/><path d="M111,160 L118,208 M189,160 L190,200 C200,215 215,225 228,232" fill="none" stroke="#0a0a0a"/><path d="M278,120 C300,125 325,150 325,190 C322,210 310,225 295,232" fill="none" stroke="#0a0a0a"/><path d="M290,115 C318,128 334,160 330,192" fill="none" stroke="#0a0a0a"/><path d="M120,208 C135,222 160,225 180,215" fill="none" stroke="#0a0a0a"/><path d="M85,235 C120,218 168,250 182,312" fill="none" stroke="#0a0a0a"/><path d="M75,250 C110,233 152,262 166,322" fill="none" stroke="#0a0a0a"/><path d="M97.6,252.9 L100.4,253.8 L103.2,255.1 L106.0,256.7 L108.7,258.6 L111.4,260.7 L113.9,263.1 L116.3,265.8 L118.6,268.7 L120.7,271.7 L122.6,275.0 L124.3,278.3 L125.9,281.8 L127.1,285.3 L128.2,288.9 L128.9,292.5 L129.5,296.1 L129.7,299.6 L129.7,303.0 L129.4,306.3 L128.9,309.5 L128.1,312.5 L127.1,315.3 L125.8,317.8 L124.3,320.2 L122.5,322.2 L120.6,324.0 L118.5,325.4 L116.2,326.6 L113.8,327.4 L111.2,327.9 L108.6,328.0 L105.8,327.8 L103.1,327.3 L100.2,326.4 L97.4,325.2 L94.7,323.7 L91.9,321.9 L89.2,319.8 L86.7,317.4 L84.2,314.8 L81.9,312.0 L79.8,309.0 L77.8,305.8 L76.0,302.5 L74.5,299.0 L73.1,295.5 L72.1,291.9 L71.2,288.3" fill="none" stroke="#0a0a0a"/><path d="M85,235 C60,255 55,300 75,328 C85,340 100,345 112,342" fill="none" stroke="#0a0a0a"/><path d="M118,208 C105,215 95,225 85,235" fill="none" stroke="#0a0a0a"/><path d="M182,312 L205,305 L232,258" fill="none" stroke="#0a0a0a"/><path d="M232,225 C228,250 235,280 252,292 L290,322" fill="none" stroke="#0a0a0a"/><path d="M240,215 C262,208 290,235 322,262" fill="none" stroke="#0a0a0a"/><path d="M325.7,302.5 L324.2,305.9 L322.5,309.1 L320.4,312.0 L318.1,314.7 L315.6,317.0 L312.8,318.9 L310.0,320.5 L307.0,321.5 L304.1,322.2 L301.1,322.4 L298.2,322.1 L295.4,321.3 L292.8,320.1 L290.4,318.5 L288.2,316.4 L286.4,314.0 L284.8,311.3 L283.6,308.3 L282.8,305.0 L282.3,301.6 L282.2,298.1 L282.6,294.5 L283.3,291.0 L284.3,287.5 L285.8,284.1 L287.5,280.9 L289.6,278.0 L291.9,275.3 L294.4,273.0 L297.2,271.1 L300.0,269.5 L303.0,268.5 L305.9,267.8 L308.9,267.6 L311.8,267.9 L314.6,268.7 L317.2,269.9 L319.6,271.5 L321.8,273.6 L323.6,276.0 L325.2,278.7 L326.4,281.7 L327.2,285.0 L327.7,288.4 L327.8,291.9 L327.4,295.5 L326.7,299.0 L325.7,302.5Z" fill="none" stroke="#0a0a0a"/><path d="M314.4,298.4 L313.7,300.1 L312.8,301.7 L311.8,303.2 L310.7,304.5 L309.5,305.7 L308.3,306.7 L306.9,307.5 L305.6,308.1 L304.2,308.5 L302.8,308.6 L301.5,308.5 L300.2,308.2 L299.0,307.6 L297.9,306.8 L297.0,305.8 L296.2,304.7 L295.5,303.4 L295.0,301.9 L294.6,300.3 L294.5,298.6 L294.5,296.9 L294.7,295.1 L295.1,293.3 L295.6,291.6 L296.3,289.9 L297.2,288.3 L298.2,286.8 L299.3,285.5 L300.5,284.3 L301.7,283.3 L303.1,282.5 L304.4,281.9 L305.8,281.5 L307.2,281.4 L308.5,281.5 L309.8,281.8 L311.0,282.4 L312.1,283.2 L313.0,284.2 L313.8,285.3 L314.5,286.6 L315.0,288.1 L315.4,289.7 L315.5,291.4 L315.5,293.1 L315.3,294.9 L314.9,296.7 L314.4,298.4Z" fill="none" stroke="#0a0a0a"/><path d="M166,325 L215,430" fill="none" stroke="#0a0a0a"/><path d="M215,430 L262,412" fill="none" stroke="#0a0a0a"/><path d="M285,368 L335,348" fill="none" stroke="#0a0a0a"/><path d="M285,368 L340,470 L395,482" fill="none" stroke="#0a0a0a"/><path d="M215,312 L262,412" fill="none" stroke="#0a0a0a"/><path d="M125,506 C120,468 160,448 200,452 L262,432" fill="none" stroke="#0a0a0a"/><path d="M204.3,502.8 L205.0,506.1 L205.4,509.5 L205.4,512.8 L205.1,516.1 L204.4,519.2 L203.4,522.1 L202.1,524.8 L200.5,527.2 L198.6,529.2 L196.5,530.9 L194.2,532.2 L191.7,533.1 L189.2,533.6 L186.5,533.6 L183.8,533.2 L181.2,532.3 L178.6,531.1 L176.1,529.4 L173.8,527.4 L171.6,525.0 L169.7,522.4 L168.1,519.5 L166.7,516.4 L165.7,513.2 L165.0,509.9 L164.6,506.5 L164.6,503.2 L164.9,499.9 L165.6,496.8 L166.6,493.9 L167.9,491.2 L169.5,488.8 L171.4,486.8 L173.5,485.1 L175.8,483.8 L178.3,482.9 L180.8,482.4 L183.5,482.4 L186.2,482.8 L188.8,483.7 L191.4,484.9 L193.9,486.6 L196.2,488.6 L198.4,491.0 L200.3,493.6 L201.9,496.5 L203.3,499.6 L204.3,502.8Z" fill="none" stroke="#0a0a0a"/><path d="M227.6,508.6 L228.1,511.2 L228.5,513.8 L228.6,516.3 L228.5,518.7 L228.1,521.1 L227.5,523.3 L226.8,525.3 L225.8,527.0 L224.6,528.6 L223.2,529.8 L221.8,530.7 L220.2,531.3 L218.5,531.6 L216.8,531.5 L215.0,531.1 L213.2,530.4 L211.5,529.4 L209.8,528.0 L208.2,526.4 L206.7,524.6 L205.4,522.5 L204.2,520.2 L203.2,517.9 L202.4,515.4 L201.9,512.8 L201.5,510.2 L201.4,507.7 L201.5,505.3 L201.9,502.9 L202.5,500.7 L203.2,498.7 L204.2,497.0 L205.4,495.4 L206.8,494.2 L208.2,493.3 L209.8,492.7 L211.5,492.4 L213.2,492.5 L215.0,492.9 L216.8,493.6 L218.5,494.6 L220.2,496.0 L221.8,497.6 L223.3,499.4 L224.6,501.5 L225.8,503.8 L226.8,506.1 L227.6,508.6Z" fill="none" stroke="#0a0a0a"/><path d="M125,506 C135,528 150,538 160,548" fill="none" stroke="#0a0a0a"/><path d="M440,452 C450,430 480,425 500,445 C506,465 500,482 490,492" fill="none" stroke="#0a0a0a"/><path d="M487.8,469.7 L487.4,471.5 L486.9,473.2 L486.2,474.9 L485.3,476.4 L484.3,477.8 L483.2,479.0 L482.1,480.0 L480.8,480.8 L479.5,481.4 L478.2,481.8 L476.9,481.9 L475.6,481.8 L474.3,481.4 L473.1,480.9 L472.0,480.1 L471.0,479.1 L470.1,477.9 L469.3,476.5 L468.7,475.0 L468.3,473.4 L468.0,471.7 L467.9,469.9 L467.9,468.1 L468.2,466.3 L468.6,464.5 L469.1,462.8 L469.8,461.1 L470.7,459.6 L471.7,458.2 L472.8,457.0 L473.9,456.0 L475.2,455.2 L476.5,454.6 L477.8,454.2 L479.1,454.1 L480.4,454.2 L481.7,454.6 L482.9,455.1 L484.0,455.9 L485.0,456.9 L485.9,458.1 L486.7,459.5 L487.3,461.0 L487.7,462.6 L488.0,464.3 L488.1,466.1 L488.1,467.9 L487.8,469.7Z" fill="none" stroke="#0a0a0a"/><path d="M449.0,482.8 L457.8,482.8 L466.3,483.8 L474.5,485.8 L482.4,488.7 L489.8,492.5 L496.8,497.2 L503.2,502.9 L509.1,509.3 L514.3,516.5 L519.0,524.5 L522.9,533.1 L526.1,542.4 L528.6,552.2 L530.4,562.4 L531.4,573.2 L531.6,584.2 L531.1,595.5 L529.8,607.0 L527.8,618.6 L525.0,630.2 L521.5,641.7 L517.3,653.2 L512.4,664.3 L506.9,675.2 L500.8,685.7 L494.2,695.8 L487.0,705.4 L479.4,714.3 L471.4,722.6 L463.1,730.3 L454.4,737.1 L445.6,743.1 L436.6,748.3 L427.4,752.6 L418.3,756.0 L409.1,758.5 L400.1,760.0 L391.2,760.5 L382.5,760.1 L374.1,758.6 L366.0,756.3 L358.3,753.0 L351.1,748.7 L344.4,743.6 L338.2,737.6 L332.6,730.9 L327.6,723.3 L323.2,715.1" fill="none" stroke="#0a0a0a"/><path d="M482.7,665.6 L475.5,679.5 L467.2,692.6 L457.9,704.7 L447.9,715.5 L437.2,725.0 L426.1,732.8 L414.8,739.0 L403.4,743.3 L392.2,745.7 L381.3,746.2 L370.9,744.7 L361.3,741.4 L352.5,736.1 L344.7,729.1 L338.1,720.5 L332.7,710.3 L328.7,698.8 L326.2,686.2 L325.0,672.7 L325.4,658.4 L327.3,643.8 L330.6,628.9 L335.3,614.1 L341.3,599.6 L348.5,585.7 L356.8,572.6 L366.1,560.5 L376.1,549.7 L386.8,540.2 L397.9,532.4 L409.2,526.2 L420.6,521.9 L431.8,519.5 L442.7,519.0 L453.1,520.5 L462.7,523.8 L471.5,529.1 L479.3,536.1 L485.9,544.7 L491.3,554.9 L495.3,566.4 L497.8,579.0 L499.0,592.5 L498.6,606.8 L496.7,621.4 L493.4,636.3 L488.7,651.1 L482.7,665.6Z" fill="none" stroke="#0a0a0a"/><path d="M468.7,546.7 L471.0,549.5 L473.1,552.4 L475.1,555.6 L477.0,558.9 L478.6,562.4 L480.1,566.1 L481.5,570.0 L482.6,574.0 L483.6,578.1 L484.4,582.4 L485.0,586.9 L485.4,591.4 L485.6,596.0 L485.7,600.8 L485.5,605.6 L485.2,610.5 L484.7,615.4 L484.0,620.4 L483.1,625.4 L482.0,630.5 L480.8,635.5 L479.4,640.6 L477.8,645.6 L476.0,650.6 L474.1,655.6 L472.0,660.5 L469.8,665.4 L467.4,670.2 L464.9,674.9 L462.2,679.5 L459.4,684.0 L456.5,688.3 L453.4,692.6 L450.3,696.7 L447.1,700.6 L443.7,704.4 L440.3,708.1 L436.8,711.5 L433.2,714.8 L429.6,717.9 L425.9,720.7 L422.2,723.4 L418.4,725.9 L414.6,728.1 L410.8,730.1 L407.0,731.9 L403.2,733.4 L399.4,734.7" fill="none" stroke="#0a0a0a"/><path d="M466.3,566.2 L467.6,568.8 L468.8,571.5 L469.9,574.4 L470.8,577.4 L471.7,580.4 L472.4,583.6 L473.0,586.9 L473.5,590.2 L473.9,593.6 L474.2,597.1 L474.3,600.7 L474.3,604.3 L474.2,608.0 L474.0,611.8 L473.6,615.5 L473.2,619.4 L472.6,623.2 L471.9,627.1 L471.1,631.0 L470.1,634.9 L469.1,638.8 L467.9,642.7 L466.7,646.6 L465.3,650.4 L463.8,654.3 L462.2,658.1 L460.5,661.9 L458.7,665.6 L456.8,669.3 L454.9,672.9 L452.8,676.5 L450.7,680.0 L448.5,683.4 L446.2,686.7 L443.8,690.0 L441.4,693.1 L438.9,696.2 L436.3,699.2 L433.7,702.0 L431.0,704.7 L428.3,707.3 L425.6,709.8 L422.8,712.2 L420.0,714.4 L417.1,716.5 L414.3,718.4 L411.4,720.2 L408.5,721.9" fill="none" stroke="#0a0a0a"/><path d="M420.0,628.6 L578.0,718.6" fill="none" stroke="#0a0a0a"/><path d="M265.0,436.6 L270.0,546.6 L330.0,568.6" fill="none" stroke="#0a0a0a"/><path d="M230.0,586.6 C220.0,636.6 225.0,686.6 250.0,706.6 L330.0,744.6" fill="none" stroke="#0a0a0a"/><path d="M178.0,701.6 L198.0,691.6 L205.0,781.6 L190.0,796.6 L130.0,794.6 L132.0,778.6 L180.0,774.6 Z" fill="none" stroke="#0a0a0a"/><path d="M45.0,796.6 C25.0,806.6 10.0,836.6 20.0,866.6 C40.0,896.6 80.0,916.6 120.0,921.6 C150.0,921.6 170.0,896.6 176.0,866.6" fill="none" stroke="#0a0a0a"/><path d="M103.4,853.7 L104.0,856.9 L104.4,860.1 L104.4,863.3 L104.1,866.4 L103.5,869.4 L102.6,872.2 L101.3,874.8 L99.8,877.1 L98.0,879.0 L96.0,880.7 L93.8,881.9 L91.5,882.7 L89.0,883.2 L86.5,883.2 L84.0,882.8 L81.4,882.0 L79.0,880.8 L76.6,879.2 L74.4,877.2 L72.3,874.9 L70.5,872.4 L68.9,869.6 L67.6,866.6 L66.6,863.5 L66.0,860.3 L65.6,857.1 L65.6,853.9 L65.9,850.8 L66.5,847.8 L67.4,845.0 L68.7,842.4 L70.2,840.1 L72.0,838.2 L74.0,836.5 L76.2,835.3 L78.5,834.5 L81.0,834.0 L83.5,834.0 L86.0,834.4 L88.6,835.2 L91.0,836.4 L93.4,838.0 L95.6,840.0 L97.7,842.3 L99.5,844.8 L101.1,847.6 L102.4,850.6 L103.4,853.7Z" fill="none" stroke="#0a0a0a"/><path d="M112.0,851.4 L113.0,855.7 L113.4,860.1 L113.4,864.5 L112.8,868.7 L111.8,872.8 L110.3,876.7 L108.4,880.2 L106.1,883.4 L103.5,886.2 L100.5,888.4 L97.3,890.2 L93.8,891.4 L90.2,892.1 L86.5,892.2 L82.8,891.7 L79.1,890.7 L75.5,889.1 L72.1,886.9 L68.9,884.3 L66.0,881.3 L63.4,877.9 L61.2,874.1 L59.3,870.1 L58.0,865.8 L57.0,861.5 L56.6,857.1 L56.6,852.7 L57.2,848.5 L58.2,844.4 L59.7,840.5 L61.6,837.0 L63.9,833.8 L66.5,831.0 L69.5,828.8 L72.7,827.0 L76.2,825.8 L79.8,825.1 L83.5,825.0 L87.2,825.5 L90.9,826.5 L94.5,828.1 L97.9,830.3 L101.1,832.9 L104.0,835.9 L106.6,839.3 L108.8,843.1 L110.7,847.1 L112.0,851.4Z" fill="none" stroke="#0a0a0a"/><path d="M166.4,860.2 L167.1,863.1 L167.4,866.1 L167.4,869.0 L167.2,871.9 L166.7,874.6 L165.8,877.2 L164.7,879.5 L163.4,881.6 L161.8,883.4 L160.0,884.9 L158.0,886.1 L156.0,886.8 L153.8,887.2 L151.5,887.2 L149.2,886.8 L146.9,886.0 L144.7,884.9 L142.6,883.4 L140.6,881.6 L138.8,879.5 L137.1,877.2 L135.7,874.6 L134.5,871.9 L133.6,869.0 L132.9,866.1 L132.6,863.1 L132.6,860.2 L132.8,857.3 L133.3,854.6 L134.2,852.0 L135.3,849.7 L136.6,847.6 L138.2,845.8 L140.0,844.3 L142.0,843.1 L144.0,842.4 L146.2,842.0 L148.5,842.0 L150.8,842.4 L153.1,843.2 L155.3,844.3 L157.4,845.8 L159.4,847.6 L161.2,849.7 L162.9,852.0 L164.3,854.6 L165.5,857.3 L166.4,860.2Z" fill="none" stroke="#0a0a0a"/><path d="M131.0,841.9 L132.5,840.2 L134.2,838.7 L136.0,837.4 L137.9,836.2 L139.9,835.3 L142.0,834.7 L144.1,834.2 L146.3,834.0 L148.5,834.0 L150.7,834.2 L152.9,834.7 L155.1,835.4 L157.3,836.4 L159.4,837.5 L161.4,838.9 L163.3,840.4 L165.2,842.1 L166.9,844.0 L168.5,846.1 L169.9,848.3 L171.2,850.6 L172.4,853.0 L173.4,855.5 L174.1,858.1 L174.8,860.8 L175.2,863.4 L175.4,866.1 L175.4,868.8 L175.3,871.4 L174.9,874.0 L174.4,876.5 L173.7,878.9 L172.7,881.2 L171.7,883.4 L170.4,885.4 L169.0,887.3 L167.5,889.0 L165.8,890.5 L164.0,891.8 L162.1,893.0 L160.1,893.9 L158.0,894.5 L155.9,895.0 L153.7,895.2 L151.5,895.2 L149.3,895.0 L147.1,894.5 L144.9,893.8" fill="none" stroke="#0a0a0a"/><path d="M45.0,796.6 L62.0,824.6" fill="none" stroke="#0a0a0a"/><path d="M176.0,866.6 L200.0,872.6 L330.0,768.6" fill="none" stroke="#0a0a0a"/><path d="M300.0,788.6 L340.0,760.6 M310.0,792.6 L345.0,768.6" fill="none" stroke="#0a0a0a"/><path d="M90,322 L128,348" fill="none" stroke="#0a0a0a" stroke-dasharray="26 10 5 10"/><path d="M262,412 L330,560" fill="none" stroke="#0a0a0a" stroke-dasharray="26 10 5 10"/><path d="M335,300 L450,480" fill="none" stroke="#0a0a0a" stroke-dasharray="26 10 5 10"/><path d="M335,348 L410,465" fill="none" stroke="#0a0a0a" stroke-dasharray="26 10 5 10"/><path d="M265,420 L270,560" fill="none" stroke="#0a0a0a" stroke-dasharray="26 10 5 10"/><path d="M323.2,715.1 L321.1,710.1 L319.2,704.9 L317.5,699.6 L316.1,694.1 L314.8,688.4 L313.9,682.6 L313.1,676.6 L312.6,670.5 L312.4,664.3 L312.4,658.0 L312.6,651.7 L313.1,645.2 L313.8,638.7 L314.8,632.2 L316.0,625.6 L317.5,619.1 L319.2,612.5 L321.1,606.0 L323.2,599.5 L325.6,593.0 L328.1,586.6 L330.9,580.3 L333.9,574.1 L337.1,568.0 L340.5,562.0 L344.0,556.1 L347.7,550.4 L351.6,544.8 L355.7,539.5 L359.9,534.3 L364.2,529.2 L368.7,524.4 L373.3,519.9 L378.0,515.5 L382.8,511.4 L387.7,507.5 L392.6,503.9 L397.6,500.5 L402.7,497.5 L407.8,494.7 L413.0,492.1 L418.2,489.9 L423.4,488.0 L428.5,486.3 L433.7,485.0 L438.8,483.9 L443.9,483.2 L449.0,482.8" fill="none" stroke="#0a0a0a" stroke-dasharray="26 10 5 10"/><path d="M334.5,727.1 L331.4,722.7 L328.6,718.0 L326.0,712.9 L323.7,707.7 L321.7,702.1 L320.0,696.4 L318.5,690.4 L317.4,684.3 L316.5,677.9 L316.0,671.4 L315.7,664.8 L315.8,658.0 L316.1,651.2 L316.8,644.2 L317.7,637.3 L319.0,630.2 L320.5,623.2 L322.3,616.1 L324.5,609.1 L326.8,602.1 L329.5,595.2 L332.4,588.4 L335.5,581.7 L338.9,575.1 L342.6,568.7 L346.4,562.4 L350.5,556.3 L354.8,550.5 L359.2,544.8 L363.8,539.4 L368.6,534.2 L373.5,529.3 L378.6,524.7 L383.7,520.4 L389.0,516.4 L394.4,512.7 L399.8,509.3 L405.2,506.3 L410.7,503.6 L416.3,501.3 L421.8,499.4 L427.3,497.8 L432.8,496.7 L438.2,495.8 L443.6,495.4 L448.8,495.4 L454.0,495.7 L459.1,496.5" fill="none" stroke="#0a0a0a" stroke-dasharray="26 10 5 10"/><path d="M160.0,546.6 C170.0,596.6 150.0,636.6 130.0,676.6 L50.0,794.6" fill="none" stroke="#0a0a0a" stroke-dasharray="26 10 5 10"/><path d="M215.0,836.6 L325.0,752.6" fill="none" stroke="#0a0a0a" stroke-dasharray="26 10 5 10"/><path d="M190.0,556.6 L100.0,726.6" fill="none" stroke="#0a0a0a" stroke-dasharray="26 10 5 10"/></g>
<g transform="translate(140,620) scale(0.15129)" stroke-width="6.61" ><path d="M-40,186 L108,285" fill="none" stroke="#0a0a0a"/><path d="M118,300 C140,245 200,210 265,210" fill="none" stroke="#0a0a0a"/><path d="M118,300 C100,340 95,400 120,440 C135,460 155,470 166,480" fill="none" stroke="#0a0a0a"/><path d="M130,342 C180,322 230,300 262,268" fill="none" stroke="#0a0a0a"/><path d="M138,357 C188,337 240,314 274,282" fill="none" stroke="#0a0a0a"/><path d="M253.0,239.5 L253.4,240.8 L253.4,242.1 L253.2,243.5 L252.7,245.0 L252.0,246.4 L251.0,247.8 L249.9,249.1 L248.5,250.4 L246.9,251.6 L245.2,252.7 L243.4,253.6 L241.4,254.4 L239.4,255.0 L237.4,255.5 L235.4,255.8 L233.4,255.9 L231.6,255.8 L229.8,255.5 L228.2,255.1 L226.7,254.4 L225.4,253.7 L224.4,252.7 L223.5,251.7 L223.0,250.5 L222.6,249.2 L222.6,247.9 L222.8,246.5 L223.3,245.0 L224.0,243.6 L225.0,242.2 L226.1,240.9 L227.5,239.6 L229.1,238.4 L230.8,237.3 L232.6,236.4 L234.6,235.6 L236.6,235.0 L238.6,234.5 L240.6,234.2 L242.6,234.1 L244.4,234.2 L246.2,234.5 L247.8,234.9 L249.3,235.6 L250.6,236.3 L251.6,237.3 L252.5,238.3 L253.0,239.5Z" fill="none" stroke="#0a0a0a"/><path d="M188.2,395.3 L186.3,399.6 L184.0,403.7 L181.3,407.4 L178.3,410.8 L174.9,413.7 L171.2,416.2 L167.4,418.1 L163.4,419.4 L159.4,420.2 L155.4,420.3 L151.5,419.9 L147.7,418.8 L144.1,417.2 L140.8,415.0 L137.8,412.3 L135.2,409.2 L133.1,405.6 L131.4,401.7 L130.1,397.5 L129.4,393.0 L129.2,388.5 L129.6,383.8 L130.4,379.2 L131.8,374.7 L133.7,370.4 L136.0,366.3 L138.7,362.6 L141.7,359.2 L145.1,356.3 L148.8,353.8 L152.6,351.9 L156.6,350.6 L160.6,349.8 L164.6,349.7 L168.5,350.1 L172.3,351.2 L175.9,352.8 L179.2,355.0 L182.2,357.7 L184.8,360.8 L186.9,364.4 L188.6,368.3 L189.9,372.5 L190.6,377.0 L190.8,381.5 L190.4,386.2 L189.6,390.8 L188.2,395.3Z" fill="none" stroke="#0a0a0a"/><path d="M174.1,390.1 L173.1,392.4 L171.9,394.6 L170.5,396.6 L169.0,398.4 L167.2,399.9 L165.4,401.3 L163.4,402.3 L161.4,403.0 L159.4,403.5 L157.4,403.6 L155.4,403.4 L153.5,402.9 L151.7,402.0 L150.1,400.9 L148.6,399.5 L147.3,397.9 L146.3,396.0 L145.4,394.0 L144.9,391.8 L144.5,389.5 L144.5,387.1 L144.7,384.7 L145.2,382.2 L145.9,379.9 L146.9,377.6 L148.1,375.4 L149.5,373.4 L151.0,371.6 L152.8,370.1 L154.6,368.7 L156.6,367.7 L158.6,367.0 L160.6,366.5 L162.6,366.4 L164.6,366.6 L166.5,367.1 L168.3,368.0 L169.9,369.1 L171.4,370.5 L172.7,372.1 L173.7,374.0 L174.6,376.0 L175.1,378.2 L175.5,380.5 L175.5,382.9 L175.3,385.3 L174.8,387.8 L174.1,390.1Z" fill="none" stroke="#0a0a0a"/><path d="M120,372 C118,402 140,426 172,426" fill="none" stroke="#0a0a0a"/><path d="M290,150 C283,128 300,108 322,108 L380,132" fill="none" stroke="#0a0a0a"/><path d="M380,132 L470,92 C505,88 540,115 548,150 C552,185 540,205 520,215 L440,228 C420,228 400,218 390,200" fill="none" stroke="#0a0a0a"/><path d="M290,150 L300,185 L262,255" fill="none" stroke="#0a0a0a"/><path d="M380,132 L345,165 L300,185" fill="none" stroke="#0a0a0a"/><path d="M345,165 L285,285" fill="none" stroke="#0a0a0a"/><path d="M390,200 L345,258 L195,352" fill="none" stroke="#0a0a0a"/><path d="M400,250 L210,385" fill="none" stroke="#0a0a0a"/><path d="M517.5,149.8 L517.7,152.1 L517.3,154.6 L516.5,157.0 L515.1,159.4 L513.3,161.7 L511.1,163.9 L508.5,165.9 L505.5,167.7 L502.2,169.4 L498.7,170.8 L495.0,171.9 L491.1,172.7 L487.2,173.3 L483.4,173.5 L479.6,173.4 L475.9,173.0 L472.5,172.2 L469.3,171.2 L466.5,169.9 L464.0,168.4 L461.9,166.6 L460.3,164.6 L459.1,162.5 L458.5,160.2 L458.3,157.9 L458.7,155.4 L459.5,153.0 L460.9,150.6 L462.7,148.3 L464.9,146.1 L467.5,144.1 L470.5,142.3 L473.8,140.6 L477.3,139.2 L481.0,138.1 L484.9,137.3 L488.8,136.7 L492.6,136.5 L496.4,136.6 L500.1,137.0 L503.5,137.8 L506.7,138.8 L509.5,140.1 L512.0,141.6 L514.1,143.4 L515.7,145.4 L516.9,147.5 L517.5,149.8Z" fill="none" stroke="#0a0a0a"/><path d="M545,120 L640,85 M550,140 L650,112 M552,185 L628,165 M562,200 L604,190 M604,190 C615,185 625,175 628,165" fill="none" stroke="#0a0a0a"/><path d="M732.3,97.0 L732.5,100.7 L732.0,104.4 L730.7,108.2 L728.7,111.9 L725.9,115.4 L722.5,118.8 L718.4,122.0 L713.9,124.9 L708.8,127.4 L703.4,129.6 L697.7,131.3 L691.9,132.6 L685.9,133.4 L680.0,133.7 L674.2,133.5 L668.6,132.9 L663.3,131.7 L658.4,130.1 L654.0,128.1 L650.2,125.7 L647.0,122.9 L644.5,119.9 L642.7,116.5 L641.7,113.0 L641.5,109.3 L642.0,105.6 L643.3,101.8 L645.3,98.1 L648.1,94.6 L651.5,91.2 L655.6,88.0 L660.1,85.1 L665.2,82.6 L670.6,80.4 L676.3,78.7 L682.1,77.4 L688.1,76.6 L694.0,76.3 L699.8,76.5 L705.4,77.1 L710.7,78.3 L715.6,79.9 L720.0,81.9 L723.8,84.3 L727.0,87.1 L729.5,90.1 L731.3,93.5 L732.3,97.0Z" fill="none" stroke="#0a0a0a"/><path d="M715.6,100.0 L715.7,102.2 L715.4,104.5 L714.5,106.8 L713.2,109.0 L711.5,111.2 L709.3,113.3 L706.7,115.2 L703.8,117.0 L700.7,118.5 L697.2,119.9 L693.7,120.9 L690.0,121.7 L686.2,122.3 L682.5,122.5 L678.8,122.4 L675.3,122.0 L672.0,121.3 L668.9,120.4 L666.1,119.2 L663.7,117.7 L661.7,116.1 L660.2,114.2 L659.1,112.2 L658.4,110.0 L658.3,107.8 L658.6,105.5 L659.5,103.2 L660.8,101.0 L662.5,98.8 L664.7,96.7 L667.3,94.8 L670.2,93.0 L673.3,91.5 L676.8,90.1 L680.3,89.1 L684.0,88.3 L687.8,87.7 L691.5,87.5 L695.2,87.6 L698.7,88.0 L702.0,88.7 L705.1,89.6 L707.9,90.8 L710.3,92.3 L712.3,93.9 L713.8,95.8 L714.9,97.8 L715.6,100.0Z" fill="none" stroke="#0a0a0a"/><path d="M630,86 C652,54 728,52 752,92 C770,125 760,162 734,180 L552,256 L520,262" fill="none" stroke="#0a0a0a"/><path d="M520,215 L560,242" fill="none" stroke="#0a0a0a"/><path d="M440,228 L430,262 L520,262" fill="none" stroke="#0a0a0a"/><path d="M270,400 C290,350 340,315 385,320 C412,335 405,400 380,440 C355,480 320,495 290,495 C270,490 264,470 262,450" fill="none" stroke="#0a0a0a"/><path d="M397,330 C424,347 418,412 392,452 C366,492 330,506 296,506" fill="none" stroke="#0a0a0a"/><path d="M237.2,469.4 L236.0,472.4 L234.7,475.1 L233.1,477.7 L231.5,480.1 L229.7,482.3 L227.8,484.1 L225.9,485.6 L224.0,486.8 L222.1,487.5 L220.2,487.9 L218.5,487.9 L216.8,487.6 L215.3,486.8 L213.9,485.6 L212.7,484.1 L211.8,482.3 L211.1,480.2 L210.6,477.8 L210.3,475.2 L210.3,472.4 L210.6,469.5 L211.1,466.5 L211.8,463.5 L212.8,460.6 L214.0,457.6 L215.3,454.9 L216.9,452.3 L218.5,449.9 L220.3,447.7 L222.2,445.9 L224.1,444.4 L226.0,443.2 L227.9,442.5 L229.8,442.1 L231.5,442.1 L233.2,442.4 L234.7,443.2 L236.1,444.4 L237.3,445.9 L238.2,447.7 L238.9,449.8 L239.4,452.2 L239.7,454.8 L239.7,457.6 L239.4,460.5 L238.9,463.5 L238.2,466.5 L237.2,469.4Z" fill="none" stroke="#0a0a0a"/><path d="M458,335 C470,300 506,295 511,315 C513,340 496,368 458,362" fill="none" stroke="#0a0a0a"/><path d="M498.5,328.1 L497.8,329.8 L496.9,331.4 L496.0,332.9 L494.9,334.2 L493.8,335.5 L492.6,336.5 L491.3,337.3 L490.1,337.9 L488.8,338.3 L487.6,338.5 L486.4,338.4 L485.2,338.2 L484.1,337.6 L483.2,336.9 L482.3,336.0 L481.6,334.9 L481.1,333.6 L480.6,332.1 L480.4,330.6 L480.3,328.9 L480.4,327.2 L480.6,325.4 L481.0,323.7 L481.5,321.9 L482.2,320.2 L483.1,318.6 L484.0,317.1 L485.1,315.8 L486.2,314.5 L487.4,313.5 L488.7,312.7 L489.9,312.1 L491.2,311.7 L492.4,311.5 L493.6,311.6 L494.8,311.8 L495.9,312.4 L496.8,313.1 L497.7,314.0 L498.4,315.1 L498.9,316.4 L499.4,317.9 L499.6,319.4 L499.7,321.1 L499.6,322.8 L499.4,324.6 L499.0,326.3 L498.5,328.1Z" fill="none" stroke="#0a0a0a"/><path d="M455,262 C448,330 446,400 452,437" fill="none" stroke="#0a0a0a"/><path d="M166,480 C186,490 186,520 170,545 L72,668" fill="none" stroke="#0a0a0a"/><path d="M196,440 C206,480 200,520 186,548 L108,662" fill="none" stroke="#0a0a0a"/><path d="M245.0,526.6 C240.0,576.6 245.0,636.6 270.0,676.6 C320.0,726.6 420.0,726.6 470.0,686.6 C502.0,654.6 502.0,596.6 478.0,546.6 C462.0,506.6 452.0,476.6 452.0,436.6" fill="none" stroke="#0a0a0a"/><path d="M245.0,526.6 C260.0,514.6 290.0,508.6 322.0,514.6" fill="none" stroke="#0a0a0a"/><path d="M487.8,590.4 L488.6,598.5 L487.7,606.8 L485.1,615.2 L480.8,623.6 L475.0,631.7 L467.7,639.5 L459.0,646.8 L449.0,653.5 L438.1,659.5 L426.3,664.7 L413.8,669.0 L400.9,672.2 L387.8,674.5 L374.6,675.7 L361.7,675.7 L349.3,674.7 L337.5,672.6 L326.6,669.5 L316.7,665.3 L308.0,660.3 L300.8,654.4 L295.0,647.8 L290.8,640.5 L288.2,632.8 L287.4,624.7 L288.3,616.4 L290.9,608.0 L295.2,599.6 L301.0,591.5 L308.3,583.7 L317.0,576.4 L327.0,569.7 L337.9,563.7 L349.7,558.5 L362.2,554.2 L375.1,551.0 L388.2,548.7 L401.4,547.5 L414.3,547.5 L426.7,548.5 L438.5,550.6 L449.4,553.7 L459.3,557.9 L468.0,562.9 L475.2,568.8 L481.0,575.4 L485.2,582.7 L487.8,590.4Z" fill="none" stroke="#0a0a0a"/><path d="M474.2,597.1 L474.8,603.7 L474.1,610.4 L471.9,617.2 L468.4,623.9 L463.5,630.5 L457.4,636.8 L450.3,642.8 L442.1,648.2 L433.0,653.1 L423.3,657.3 L413.0,660.8 L402.4,663.5 L391.6,665.4 L380.8,666.4 L370.2,666.5 L359.9,665.7 L350.2,664.0 L341.3,661.5 L333.1,658.2 L326.0,654.2 L320.1,649.5 L315.3,644.1 L311.9,638.3 L309.8,632.1 L309.2,625.5 L309.9,618.8 L312.1,612.0 L315.6,605.3 L320.5,598.7 L326.6,592.4 L333.7,586.4 L341.9,581.0 L351.0,576.1 L360.7,571.9 L371.0,568.4 L381.6,565.7 L392.4,563.8 L403.2,562.8 L413.8,562.7 L424.1,563.5 L433.8,565.2 L442.7,567.7 L450.9,571.0 L458.0,575.0 L463.9,579.7 L468.7,585.1 L472.1,590.9 L474.2,597.1Z" fill="none" stroke="#0a0a0a"/><path d="M462.5,606.0 L462.9,608.8 L462.9,611.6 L462.6,614.4 L461.9,617.3 L460.8,620.2 L459.4,623.1 L457.6,626.0 L455.5,628.9 L453.1,631.7 L450.4,634.4 L447.4,637.1 L444.1,639.7 L440.5,642.2 L436.7,644.6 L432.6,646.8 L428.4,649.0 L423.9,650.9 L419.4,652.7 L414.6,654.4 L409.8,655.8 L404.9,657.1 L399.9,658.2 L394.9,659.1 L389.9,659.7 L384.9,660.2 L380.0,660.5 L375.1,660.5 L370.3,660.3 L365.7,660.0 L361.2,659.4 L356.9,658.6 L352.8,657.6 L348.9,656.4 L345.2,655.1 L341.8,653.5 L338.7,651.8 L335.8,649.9 L333.3,647.8 L331.1,645.7 L329.2,643.3 L327.7,640.9 L326.5,638.3 L325.7,635.7 L325.2,633.0 L325.1,630.2 L325.3,627.3 L326.0,624.5 L327.0,621.6" fill="none" stroke="#0a0a0a"/><path d="M322.0,622.6 C350.0,596.6 420.0,601.6 446.0,632.6" fill="none" stroke="#0a0a0a"/><path d="M245.0,658.6 L210.0,672.6 L162.0,692.6" fill="none" stroke="#0a0a0a"/><path d="M40.0,696.6 C50.0,664.6 92.0,658.6 120.0,686.6 C130.0,718.6 110.0,752.6 75.0,758.6 C45.0,752.6 30.0,726.6 40.0,696.6" fill="none" stroke="#0a0a0a"/><path d="M102.7,723.1 L101.2,725.5 L99.4,727.7 L97.4,729.7 L95.2,731.5 L93.0,732.9 L90.6,734.1 L88.2,734.9 L85.8,735.4 L83.5,735.5 L81.2,735.2 L79.0,734.6 L77.0,733.7 L75.2,732.4 L73.6,730.8 L72.2,728.9 L71.1,726.8 L70.3,724.5 L69.8,722.1 L69.6,719.5 L69.8,716.8 L70.2,714.0 L70.9,711.3 L72.0,708.7 L73.3,706.1 L74.8,703.7 L76.6,701.5 L78.6,699.5 L80.8,697.7 L83.0,696.3 L85.4,695.1 L87.8,694.3 L90.2,693.8 L92.5,693.7 L94.8,694.0 L97.0,694.6 L99.0,695.5 L100.8,696.8 L102.4,698.4 L103.8,700.3 L104.9,702.4 L105.7,704.7 L106.2,707.1 L106.4,709.7 L106.2,712.4 L105.8,715.2 L105.1,717.9 L104.0,720.5 L102.7,723.1Z" fill="none" stroke="#0a0a0a"/><path d="M30.0,708.6 C28.0,734.6 45.0,754.6 66.0,762.6" fill="none" stroke="#0a0a0a"/><path d="M168.0,701.6 L167.9,702.9 L167.7,704.2 L167.4,705.4 L166.9,706.6 L166.3,707.7 L165.7,708.7 L164.9,709.5 L164.0,710.3 L163.1,710.8 L162.1,711.3 L161.0,711.5 L160.0,711.6 L159.0,711.5 L157.9,711.3 L156.9,710.8 L156.0,710.3 L155.1,709.5 L154.3,708.7 L153.7,707.7 L153.1,706.6 L152.6,705.4 L152.3,704.2 L152.1,702.9 L152.0,701.6 L152.1,700.3 L152.3,699.0 L152.6,697.8 L153.1,696.6 L153.7,695.5 L154.3,694.5 L155.1,693.7 L156.0,692.9 L156.9,692.4 L157.9,691.9 L159.0,691.7 L160.0,691.6 L161.0,691.7 L162.1,691.9 L163.1,692.4 L164.0,692.9 L164.9,693.7 L165.7,694.5 L166.3,695.5 L166.9,696.6 L167.4,697.8 L167.7,699.0 L167.9,700.3 L168.0,701.6Z" fill="none" stroke="#0a0a0a"/><path d="M120.0,688.6 L150.0,698.6" fill="none" stroke="#0a0a0a"/><path d="M420,292 C410,340 412,400 426,470" fill="none" stroke="#0a0a0a" stroke-dasharray="26 10 5 10"/><path d="M182,482 L88,652" fill="none" stroke="#0a0a0a" stroke-dasharray="26 10 5 10"/><path d="M262,450 C255,430 260,415 270,400" fill="none" stroke="#0a0a0a" stroke-dasharray="26 10 5 10"/><path d="M300.0,536.6 C340.0,501.6 420.0,501.6 460.0,536.6" fill="none" stroke="#0a0a0a" stroke-dasharray="26 10 5 10"/><path d="M285.0,576.6 C282.0,626.6 300.0,666.6 340.0,686.6" fill="none" stroke="#0a0a0a" stroke-dasharray="26 10 5 10"/></g>
<g transform="translate(250,660) scale(0.15129)" stroke-width="6.61" ><path d="M100,110 C110,85 140,68 182,68 C232,70 270,92 276,114 L200,163 L104,152 Z" fill="none" stroke="#0a0a0a"/><path d="M104,152 C110,180 150,200 176,196 L200,163" fill="none" stroke="#0a0a0a"/><path d="M199.9,107.8 L199.9,110.1 L199.4,112.3 L198.6,114.5 L197.3,116.6 L195.7,118.6 L193.7,120.4 L191.3,122.1 L188.7,123.6 L185.9,124.8 L182.9,125.8 L179.7,126.5 L176.5,126.9 L173.2,127.1 L170.0,126.9 L166.8,126.5 L163.8,125.8 L161.0,124.8 L158.4,123.5 L156.1,122.0 L154.2,120.4 L152.6,118.5 L151.3,116.5 L150.5,114.4 L150.1,112.2 L150.1,109.9 L150.6,107.7 L151.4,105.5 L152.7,103.4 L154.3,101.4 L156.3,99.6 L158.7,97.9 L161.3,96.4 L164.1,95.2 L167.1,94.2 L170.3,93.5 L173.5,93.1 L176.8,92.9 L180.0,93.1 L183.2,93.5 L186.2,94.2 L189.0,95.2 L191.6,96.5 L193.9,98.0 L195.8,99.6 L197.4,101.5 L198.7,103.5 L199.5,105.6 L199.9,107.8Z" fill="none" stroke="#0a0a0a"/><path d="M104,152 C130,200 200,280 235,360 C246,390 240,420 225,446" fill="none" stroke="#0a0a0a"/><path d="M176,196 C215,260 250,330 262,380 C268,410 260,440 240,460" fill="none" stroke="#0a0a0a"/><path d="M276,114 C300,140 330,180 346,232" fill="none" stroke="#0a0a0a"/><path d="M546.6,111.3 L547.1,116.5 L546.5,121.9 L544.8,127.3 L542.1,132.7 L538.3,137.9 L533.5,143.0 L527.9,147.7 L521.5,152.0 L514.4,155.9 L506.7,159.2 L498.7,162.0 L490.3,164.1 L481.8,165.6 L473.3,166.3 L465.0,166.4 L456.9,165.7 L449.3,164.4 L442.2,162.4 L435.8,159.7 L430.2,156.4 L425.5,152.7 L421.8,148.4 L419.1,143.7 L417.4,138.7 L416.9,133.5 L417.5,128.1 L419.2,122.7 L421.9,117.3 L425.7,112.1 L430.5,107.0 L436.1,102.3 L442.5,98.0 L449.6,94.1 L457.3,90.8 L465.3,88.0 L473.7,85.9 L482.2,84.4 L490.7,83.7 L499.0,83.6 L507.1,84.3 L514.7,85.6 L521.8,87.6 L528.2,90.3 L533.8,93.6 L538.5,97.3 L542.2,101.6 L544.9,106.3 L546.6,111.3Z" fill="none" stroke="#0a0a0a"/><path d="M528.9,114.6 L529.3,118.5 L528.9,122.6 L527.6,126.6 L525.5,130.7 L522.6,134.6 L519.0,138.4 L514.7,142.0 L509.9,145.2 L504.5,148.1 L498.7,150.7 L492.6,152.7 L486.2,154.3 L479.8,155.5 L473.4,156.0 L467.0,156.1 L460.9,155.6 L455.2,154.6 L449.8,153.1 L445.0,151.1 L440.8,148.7 L437.2,145.8 L434.4,142.6 L432.3,139.1 L431.1,135.4 L430.7,131.5 L431.1,127.4 L432.4,123.4 L434.5,119.3 L437.4,115.4 L441.0,111.6 L445.3,108.0 L450.1,104.8 L455.5,101.9 L461.3,99.3 L467.4,97.3 L473.8,95.7 L480.2,94.5 L486.6,94.0 L493.0,93.9 L499.1,94.4 L504.8,95.4 L510.2,96.9 L515.0,98.9 L519.2,101.3 L522.8,104.2 L525.6,107.4 L527.7,110.9 L528.9,114.6Z" fill="none" stroke="#0a0a0a"/><path d="M505.4,119.2 L505.6,121.5 L505.4,123.9 L504.7,126.4 L503.6,128.8 L502.0,131.1 L500.0,133.3 L497.6,135.4 L494.9,137.3 L491.9,139.0 L488.7,140.5 L485.3,141.7 L481.7,142.6 L478.1,143.2 L474.5,143.5 L471.0,143.5 L467.5,143.2 L464.3,142.5 L461.3,141.6 L458.5,140.3 L456.2,138.8 L454.1,137.1 L452.5,135.2 L451.3,133.1 L450.6,130.8 L450.4,128.5 L450.6,126.1 L451.3,123.6 L452.4,121.2 L454.0,118.9 L456.0,116.7 L458.4,114.6 L461.1,112.7 L464.1,111.0 L467.3,109.5 L470.7,108.3 L474.3,107.4 L477.9,106.8 L481.5,106.5 L485.0,106.5 L488.5,106.8 L491.7,107.5 L494.7,108.4 L497.5,109.7 L499.8,111.2 L501.9,112.9 L503.5,114.8 L504.7,116.9 L505.4,119.2Z" fill="none" stroke="#0a0a0a"/><path d="M205,161 L266,121 M207,164 L268,124" fill="none" stroke="#0a0a0a"/><path d="M420,112 L360,210 L346,232" fill="none" stroke="#0a0a0a"/><path d="M547,118 C566,160 544,200 520,230 L480,300" fill="none" stroke="#0a0a0a"/><path d="M536,150 L556,152 L500,242" fill="none" stroke="#0a0a0a"/><path d="M375,236 L426,186 M378,240 L429,190 M382,246 L406,216" fill="none" stroke="#0a0a0a"/><path d="M480,300 C470,340 490,400 515,440 C526,460 530,480 525,492" fill="none" stroke="#0a0a0a"/><path d="M330,250 L386,272" fill="none" stroke="#0a0a0a"/><path d="M300,330 L350,320" fill="none" stroke="#0a0a0a"/><path d="M350,320 L440,482" fill="none" stroke="#0a0a0a"/><path d="M376,300 L452,470" fill="none" stroke="#0a0a0a"/><path d="M345,455 C370,470 400,485 430,492" fill="none" stroke="#0a0a0a"/><path d="M130,520 C140,490 180,470 215,480 L240,460" fill="none" stroke="#0a0a0a"/><path d="M197.7,545.6 L195.8,549.0 L193.6,552.2 L191.1,555.2 L188.3,557.7 L185.3,559.9 L182.1,561.7 L178.7,563.0 L175.3,563.8 L172.0,564.2 L168.6,564.0 L165.4,563.3 L162.3,562.2 L159.5,560.6 L156.9,558.5 L154.6,556.1 L152.7,553.3 L151.1,550.1 L150.0,546.8 L149.3,543.2 L149.0,539.4 L149.2,535.6 L149.8,531.8 L150.9,528.1 L152.3,524.4 L154.2,521.0 L156.4,517.8 L158.9,514.8 L161.7,512.3 L164.7,510.1 L167.9,508.3 L171.3,507.0 L174.7,506.2 L178.0,505.8 L181.4,506.0 L184.6,506.7 L187.7,507.8 L190.5,509.4 L193.1,511.5 L195.4,513.9 L197.3,516.7 L198.9,519.9 L200.0,523.2 L200.7,526.8 L201.0,530.6 L200.8,534.4 L200.2,538.2 L199.1,541.9 L197.7,545.6Z" fill="none" stroke="#0a0a0a"/><path d="M186.8,540.5 L185.7,542.5 L184.5,544.3 L183.1,546.0 L181.6,547.5 L180.0,548.7 L178.3,549.8 L176.5,550.6 L174.7,551.1 L172.9,551.3 L171.1,551.3 L169.4,551.0 L167.8,550.4 L166.3,549.6 L165.0,548.5 L163.9,547.1 L162.9,545.6 L162.1,543.9 L161.6,542.0 L161.3,540.0 L161.2,537.9 L161.4,535.8 L161.8,533.7 L162.4,531.6 L163.2,529.5 L164.3,527.5 L165.5,525.7 L166.9,524.0 L168.4,522.5 L170.0,521.3 L171.7,520.2 L173.5,519.4 L175.3,518.9 L177.1,518.7 L178.9,518.7 L180.6,519.0 L182.2,519.6 L183.7,520.4 L185.0,521.5 L186.1,522.9 L187.1,524.4 L187.9,526.1 L188.4,528.0 L188.7,530.0 L188.8,532.1 L188.6,534.2 L188.2,536.3 L187.6,538.4 L186.8,540.5Z" fill="none" stroke="#0a0a0a"/><path d="M130,520 C120,550 140,575 165,586 L190,600" fill="none" stroke="#0a0a0a"/><path d="M150,496 L245,446" fill="none" stroke="#0a0a0a"/><path d="M471.3,494.6 L480.7,492.7 L490.0,491.9 L499.1,492.1 L507.9,493.5 L516.3,495.8 L524.4,499.3 L531.9,503.7 L538.9,509.1 L545.3,515.4 L551.0,522.6 L556.0,530.7 L560.2,539.4 L563.7,548.9 L566.3,559.0 L568.2,569.5 L569.1,580.5 L569.2,591.9 L568.5,603.5 L566.8,615.2 L564.4,627.0 L561.1,638.7 L557.0,650.4 L552.2,661.7 L546.7,672.8 L540.4,683.4 L533.6,693.5 L526.2,703.0 L518.3,711.8 L509.9,719.9 L501.2,727.2 L492.2,733.6 L482.9,739.1 L473.5,743.6 L464.0,747.1 L454.6,749.6 L445.2,751.0 L436.0,751.3 L427.0,750.6 L418.4,748.8 L410.1,746.0 L402.3,742.1 L395.0,737.3 L388.2,731.4 L382.1,724.7 L376.7,717.1 L372.1,708.8 L368.2,699.7 L365.0,689.9" fill="none" stroke="#0a0a0a"/><path d="M526.7,661.6 L519.7,675.0 L511.6,687.7 L502.6,699.3 L492.7,709.7 L482.2,718.8 L471.3,726.2 L460.1,732.1 L448.9,736.1 L437.8,738.3 L426.9,738.7 L416.6,737.1 L407.0,733.7 L398.2,728.5 L390.4,721.6 L383.7,713.1 L378.2,703.2 L374.1,691.9 L371.3,679.6 L370.1,666.4 L370.3,652.6 L371.9,638.4 L375.0,624.0 L379.5,609.6 L385.3,595.6 L392.3,582.2 L400.4,569.5 L409.4,557.9 L419.3,547.5 L429.8,538.4 L440.7,531.0 L451.9,525.1 L463.1,521.1 L474.2,518.9 L485.1,518.5 L495.4,520.1 L505.0,523.5 L513.8,528.7 L521.6,535.6 L528.3,544.1 L533.8,554.0 L537.9,565.3 L540.7,577.6 L541.9,590.8 L541.7,604.6 L540.1,618.8 L537.0,633.2 L532.5,647.6 L526.7,661.6Z" fill="none" stroke="#0a0a0a"/><path d="M525.9,626.5 L525.2,630.1 L524.3,633.7 L523.3,637.3 L522.2,640.9 L521.1,644.5 L519.8,648.1 L518.4,651.6 L517.0,655.2 L515.5,658.7 L513.9,662.1 L512.2,665.6 L510.4,668.9 L508.6,672.3 L506.7,675.5 L504.7,678.8 L502.6,681.9 L500.5,685.0 L498.3,688.0 L496.0,691.0 L493.7,693.8 L491.4,696.6 L488.9,699.3 L486.5,701.9 L484.0,704.4 L481.4,706.9 L478.8,709.2 L476.2,711.4 L473.5,713.5 L470.8,715.5 L468.1,717.4 L465.4,719.2 L462.6,720.8 L459.9,722.4 L457.1,723.8 L454.3,725.1 L451.5,726.3 L448.7,727.3 L445.9,728.3 L443.2,729.1 L440.4,729.7 L437.7,730.3 L434.9,730.7 L432.2,731.0 L429.5,731.1 L426.9,731.1 L424.3,731.0 L421.7,730.8 L419.2,730.4" fill="none" stroke="#0a0a0a"/><path d="M510.4,644.0 L509.5,646.6 L508.6,649.2 L507.6,651.8 L506.5,654.3 L505.4,656.9 L504.3,659.4 L503.1,661.9 L501.9,664.3 L500.6,666.8 L499.2,669.2 L497.9,671.6 L496.5,673.9 L495.0,676.3 L493.5,678.5 L492.0,680.8 L490.4,683.0 L488.9,685.2 L487.2,687.3 L485.6,689.3 L483.9,691.4 L482.1,693.4 L480.4,695.3 L478.6,697.2 L476.8,699.0 L475.0,700.7 L473.1,702.5 L471.3,704.1 L469.4,705.7 L467.5,707.2 L465.5,708.7 L463.6,710.1 L461.7,711.4 L459.7,712.7 L457.7,713.9 L455.8,715.1 L453.8,716.1 L451.8,717.1 L449.8,718.1 L447.8,718.9 L445.8,719.7 L443.9,720.4 L441.9,721.1 L439.9,721.6 L437.9,722.1 L436.0,722.5 L434.0,722.9 L432.1,723.1 L430.2,723.3" fill="none" stroke="#0a0a0a"/><path d="M460.0,626.6 L600.0,706.6" fill="none" stroke="#0a0a0a"/><path d="M165.0,586.6 C185.0,596.6 195.0,626.6 185.0,656.6 L60.0,836.6" fill="none" stroke="#0a0a0a"/><path d="M200.0,576.6 C215.0,616.6 210.0,646.6 200.0,672.6 L96.0,828.6" fill="none" stroke="#0a0a0a"/><path d="M275.0,521.6 L336.0,561.6" fill="none" stroke="#0a0a0a"/><path d="M240.0,726.6 L290.0,711.6 C320.0,726.6 350.0,738.6 386.0,742.6" fill="none" stroke="#0a0a0a"/><path d="M200.0,732.6 L256.0,721.6" fill="none" stroke="#0a0a0a"/><path d="M305.0,768.6 L386.0,746.6 M290.0,742.6 L300.0,778.6 L380.0,753.6 M312.0,774.6 L380.0,758.6" fill="none" stroke="#0a0a0a"/><path d="M60.0,836.6 C40.0,856.6 45.0,891.6 70.0,906.6 C90.0,912.6 110.0,902.6 120.0,886.6 L136.0,862.6" fill="none" stroke="#0a0a0a"/><path d="M114.1,877.6 L112.1,880.7 L109.8,883.5 L107.2,886.0 L104.5,888.3 L101.6,890.1 L98.6,891.5 L95.5,892.5 L92.4,893.1 L89.4,893.2 L86.4,892.9 L83.6,892.1 L81.0,890.8 L78.6,889.2 L76.5,887.2 L74.8,884.8 L73.3,882.1 L72.3,879.1 L71.6,876.0 L71.4,872.6 L71.5,869.2 L72.0,865.7 L73.0,862.3 L74.3,858.9 L75.9,855.6 L77.9,852.5 L80.2,849.7 L82.8,847.2 L85.5,844.9 L88.4,843.1 L91.4,841.7 L94.5,840.7 L97.6,840.1 L100.6,840.0 L103.6,840.3 L106.4,841.1 L109.0,842.4 L111.4,844.0 L113.5,846.0 L115.2,848.4 L116.7,851.1 L117.7,854.1 L118.4,857.2 L118.6,860.6 L118.5,864.0 L118.0,867.5 L117.0,870.9 L115.7,874.3 L114.1,877.6Z" fill="none" stroke="#0a0a0a"/><path d="M105.4,872.6 L104.3,874.4 L103.0,876.0 L101.5,877.4 L100.0,878.7 L98.4,879.8 L96.7,880.6 L95.0,881.2 L93.3,881.6 L91.6,881.7 L90.0,881.5 L88.4,881.1 L87.0,880.5 L85.7,879.6 L84.6,878.4 L83.6,877.1 L82.9,875.6 L82.3,873.9 L82.0,872.2 L81.9,870.3 L82.0,868.3 L82.3,866.4 L82.9,864.4 L83.7,862.5 L84.6,860.6 L85.7,858.8 L87.0,857.2 L88.5,855.8 L90.0,854.5 L91.6,853.4 L93.3,852.6 L95.0,852.0 L96.7,851.6 L98.4,851.5 L100.0,851.7 L101.6,852.1 L103.0,852.7 L104.3,853.6 L105.4,854.8 L106.4,856.1 L107.1,857.6 L107.7,859.3 L108.0,861.0 L108.1,862.9 L108.0,864.9 L107.7,866.8 L107.1,868.8 L106.3,870.7 L105.4,872.6Z" fill="none" stroke="#0a0a0a"/><path d="M173.5,849.7 L172.9,851.0 L172.2,852.2 L171.4,853.4 L170.4,854.4 L169.4,855.3 L168.3,856.1 L167.2,856.7 L166.0,857.1 L164.8,857.3 L163.6,857.4 L162.4,857.2 L161.2,856.9 L160.2,856.4 L159.2,855.8 L158.3,855.0 L157.5,854.0 L156.9,852.9 L156.4,851.7 L156.0,850.5 L155.8,849.1 L155.7,847.7 L155.9,846.3 L156.1,844.9 L156.5,843.5 L157.1,842.2 L157.8,841.0 L158.6,839.8 L159.6,838.8 L160.6,837.9 L161.7,837.1 L162.8,836.5 L164.0,836.1 L165.2,835.9 L166.4,835.8 L167.6,836.0 L168.8,836.3 L169.8,836.8 L170.8,837.4 L171.7,838.2 L172.5,839.2 L173.1,840.3 L173.6,841.5 L174.0,842.7 L174.2,844.1 L174.3,845.5 L174.1,846.9 L173.9,848.3 L173.5,849.7Z" fill="none" stroke="#0a0a0a"/><path d="M136.0,862.6 L150.0,866.6 C180.0,836.6 230.0,816.6 270.0,812.6 L300.0,782.6" fill="none" stroke="#0a0a0a"/><path d="M235.0,652.6 L240.0,726.6" fill="none" stroke="#0a0a0a"/><path d="M200,200 L330,480" fill="none" stroke="#0a0a0a" stroke-dasharray="26 10 5 10"/><path d="M236,222 L300,380" fill="none" stroke="#0a0a0a" stroke-dasharray="26 10 5 10"/><path d="M425,250 L520,200" fill="none" stroke="#0a0a0a" stroke-dasharray="26 10 5 10"/><path d="M490,300 C485,350 500,420 520,470" fill="none" stroke="#0a0a0a" stroke-dasharray="26 10 5 10"/><path d="M290,246 C300,230 320,235 330,250 L350,300 L330,320 L300,330 Z" fill="none" stroke="#0a0a0a" stroke-dasharray="26 10 5 10"/><path d="M396,290 L462,450" fill="none" stroke="#0a0a0a" stroke-dasharray="26 10 5 10"/><path d="M240,490 L330,540 L340,600" fill="none" stroke="#0a0a0a" stroke-dasharray="26 10 5 10"/><path d="M215,480 L250,500" fill="none" stroke="#0a0a0a" stroke-dasharray="26 10 5 10"/><path d="M365.0,689.9 L363.9,685.5 L363.0,680.9 L362.2,676.2 L361.6,671.5 L361.1,666.7 L360.8,661.8 L360.7,656.8 L360.8,651.8 L361.0,646.7 L361.4,641.6 L361.9,636.5 L362.6,631.3 L363.5,626.1 L364.5,620.9 L365.7,615.7 L367.1,610.5 L368.6,605.4 L370.3,600.3 L372.1,595.2 L374.0,590.1 L376.2,585.1 L378.4,580.1 L380.8,575.2 L383.3,570.4 L386.0,565.7 L388.8,561.1 L391.7,556.5 L394.7,552.1 L397.8,547.8 L401.1,543.6 L404.4,539.5 L407.9,535.5 L411.4,531.7 L415.0,528.0 L418.7,524.5 L422.5,521.2 L426.3,518.0 L430.2,514.9 L434.2,512.0 L438.2,509.4 L442.3,506.8 L446.4,504.5 L450.5,502.4 L454.6,500.4 L458.8,498.7 L462.9,497.1 L467.1,495.7 L471.3,494.6" fill="none" stroke="#0a0a0a" stroke-dasharray="26 10 5 10"/><path d="M384.6,747.1 L379.8,743.0 L375.3,738.5 L371.2,733.6 L367.3,728.4 L363.7,722.7 L360.5,716.8 L357.7,710.5 L355.1,704.0 L353.0,697.2 L351.2,690.1 L349.8,682.8 L348.7,675.3 L348.1,667.7 L347.8,659.9 L348.0,652.0 L348.5,644.0 L349.3,635.9 L350.6,627.8 L352.3,619.6 L354.3,611.5 L356.7,603.5 L359.4,595.5 L362.5,587.6 L365.9,579.8 L369.7,572.2 L373.7,564.7 L378.1,557.5 L382.8,550.5 L387.7,543.7 L392.8,537.2 L398.2,531.1 L403.8,525.2 L409.7,519.6 L415.6,514.5 L421.8,509.7 L428.1,505.2 L434.5,501.2 L441.0,497.6 L447.5,494.4 L454.1,491.7 L460.8,489.4 L467.4,487.6 L474.0,486.2 L480.6,485.4 L487.1,484.9 L493.6,485.0 L499.9,485.5 L506.1,486.5" fill="none" stroke="#0a0a0a" stroke-dasharray="26 10 5 10"/><path d="M230.0,491.6 L270.0,476.6 L275.0,521.6" fill="none" stroke="#0a0a0a" stroke-dasharray="26 10 5 10"/><path d="M336.0,561.6 L300.0,646.6 L226.0,646.6" fill="none" stroke="#0a0a0a" stroke-dasharray="26 10 5 10"/><path d="M180.0,658.6 L70.0,826.6" fill="none" stroke="#0a0a0a" stroke-dasharray="26 10 5 10"/><path d="M226.0,646.6 L200.0,732.6" fill="none" stroke="#0a0a0a" stroke-dasharray="26 10 5 10"/><path d="M300.0,646.6 L330.0,726.6" fill="none" stroke="#0a0a0a" stroke-dasharray="26 10 5 10"/><path d="M181.0,852.4 L179.9,854.8 L178.7,857.1 L177.1,859.2 L175.4,861.0 L173.5,862.7 L171.5,864.0 L169.3,865.0 L167.1,865.8 L164.8,866.2 L162.5,866.3 L160.3,866.0 L158.2,865.4 L156.1,864.5 L154.3,863.2 L152.6,861.7 L151.1,860.0 L149.8,858.0 L148.9,855.8 L148.2,853.4 L147.7,851.0 L147.6,848.4 L147.8,845.8 L148.3,843.3 L149.0,840.8 L150.1,838.4 L151.3,836.1 L152.9,834.0 L154.6,832.2 L156.5,830.5 L158.5,829.2 L160.7,828.2 L162.9,827.4 L165.2,827.0 L167.5,826.9 L169.7,827.2 L171.8,827.8 L173.9,828.7 L175.7,830.0 L177.4,831.5 L178.9,833.2 L180.2,835.2 L181.1,837.4 L181.8,839.8 L182.3,842.2 L182.4,844.8 L182.2,847.4 L181.7,849.9 L181.0,852.4Z" fill="#bbb" stroke="#0a0a0a"/><path d="M173.5,849.7 L172.9,851.0 L172.2,852.2 L171.4,853.4 L170.4,854.4 L169.4,855.3 L168.3,856.1 L167.2,856.7 L166.0,857.1 L164.8,857.3 L163.6,857.4 L162.4,857.2 L161.2,856.9 L160.2,856.4 L159.2,855.8 L158.3,855.0 L157.5,854.0 L156.9,852.9 L156.4,851.7 L156.0,850.5 L155.8,849.1 L155.7,847.7 L155.9,846.3 L156.1,844.9 L156.5,843.5 L157.1,842.2 L157.8,841.0 L158.6,839.8 L159.6,838.8 L160.6,837.9 L161.7,837.1 L162.8,836.5 L164.0,836.1 L165.2,835.9 L166.4,835.8 L167.6,836.0 L168.8,836.3 L169.8,836.8 L170.8,837.4 L171.7,838.2 L172.5,839.2 L173.1,840.3 L173.6,841.5 L174.0,842.7 L174.2,844.1 L174.3,845.5 L174.1,846.9 L173.9,848.3 L173.5,849.7Z" fill="none" stroke="#0a0a0a"/><path d="M361.3,299.1 L360.5,300.9 L359.6,302.6 L358.5,304.2 L357.2,305.6 L355.8,306.8 L354.3,307.9 L352.8,308.7 L351.2,309.3 L349.6,309.6 L348.0,309.7 L346.4,309.5 L344.9,309.1 L343.4,308.4 L342.1,307.6 L340.9,306.5 L339.9,305.2 L339.1,303.7 L338.4,302.1 L337.9,300.3 L337.7,298.5 L337.6,296.6 L337.8,294.7 L338.2,292.8 L338.7,290.9 L339.5,289.1 L340.4,287.4 L341.5,285.8 L342.8,284.4 L344.2,283.2 L345.7,282.1 L347.2,281.3 L348.8,280.7 L350.4,280.4 L352.0,280.3 L353.6,280.5 L355.1,280.9 L356.6,281.6 L357.9,282.4 L359.1,283.5 L360.1,284.8 L360.9,286.3 L361.6,287.9 L362.1,289.7 L362.3,291.5 L362.4,293.4 L362.2,295.3 L361.8,297.2 L361.3,299.1Z" fill="#bbb" stroke="#0a0a0a"/></g>
<g transform="translate(90,785) scale(0.08321)" stroke-width="12.02" ><path d="M135,410 L290,180 L292,245 L550,105 L572,290 L300,440 L295,518 Z" fill="#fff" stroke="#0a0a0a"/><path d="M135,410 L92,400 L245,158 L290,180 M292,212 L525,75 L572,95 L572,290 M525,75 L550,105 M292,245 L292,212" fill="none" stroke="#0a0a0a"/><text transform="translate(286,416) matrix(1,-0.475,-0.07,1,0,0)" font-size="200" font-weight="bold" style="stroke:none" fill="#000" textLength="258" lengthAdjust="spacingAndGlyphs">FWD</text></g>
<g fill="#fff" stroke="#0a0a0a" stroke-width="0.95">
<circle cx="272.3" cy="486.4" r="40.4"/><circle cx="272.3" cy="486.3" r="22.1"/>
<circle cx="430.5" cy="486.1" r="40.6"/><circle cx="430.3" cy="486" r="21.9"/>
</g>
<circle cx="272.5" cy="485.3" r="5.5" fill="#000"/>
<circle cx="430.7" cy="485.2" r="5.6" fill="#000"/>
<polygon fill="#000" stroke="#fff" stroke-width="2.6" paint-order="stroke" points="401.6,307.3 409.9,312.6 430.4,474.6 429.4,474.6"/>
<polygon fill="#000" points="401.2,305.3 410.9,311.6 410.5,315 401.9,309.3"/>
<path fill="#000" stroke="#fff" stroke-width="2.6" paint-order="stroke" d="M271.6,494.4 L274.8,542 Q275.4,560 272.7,583.5 L277,586 Q279.2,560 278,542 L272.4,494.4 Z"/>
<path fill="#000" d="M272.9,580.5 L277.3,583 L277,588 L272.5,585.4 Z"/>

<g id="thick" fill="#000" stroke="none">
<path d="M278.15,224.4 C276.6,227.5 275.6,231.5 277.2,234.6 C278,236.6 279.3,238 280.45,238.82 L547.55,392.22 C551,394.3 554.5,394.2 557.3,392.6 C558.8,391.4 560,389.6 561,387.2 C559,389 557,390 555,390.2 C553,390.4 551.3,389.6 549.65,388.58 L282.55,235.18 C280.3,233.8 278.9,232.2 278.3,230 C277.9,228.3 278,226.4 278.15,224.4 Z"/>
<path d="M124.3,510.3 C125.5,507.8 127.3,505.6 129.6,504.4 C132.5,503.1 135.6,504.7 138.55,506.48 L444.55,682.78 C448.3,685 450.6,687.8 451,691.2 C451.3,693.8 450.5,696.2 449.3,698.5 C449.2,696.5 449,694.3 448.5,692.3 C447.6,689.5 445.5,688.2 442.45,686.42 L136.45,510.12 C134.5,509 132.8,507.6 130.6,507.5 C128.3,507.5 126.3,508.7 124.3,510.3 Z"/>
</g>

<g fill="none" stroke="#0a0a0a" stroke-width="1.1">
<path d="M340.1,145.7 L350.9,130 M358.3,118.5 L368.6,104.1 L609.2,237.7 L598.4,256.6 M591.2,269.3 L582.1,285.1"/>
<path d="M488.5,170.4 L499.1,152.1"/>
<path d="M131.05,627.4 L140.5,613.4 M148.1,601.3 L164.7,576.2 L406.2,709.2 L388.8,738.3 M382,750.6 L372.9,764.4"/>
<path d="M285.4,642.6 L295.6,625.1"/>
</g>
<text transform="translate(354.8,128.3) scale(1.3,1)" font-size="11.9" text-anchor="middle">2</text>
<text transform="translate(503.3,148.9) scale(1.3,1)" font-size="11.9" text-anchor="middle">1</text>
<text transform="translate(593.8,267.4) scale(1.3,1)" font-size="11.9" text-anchor="middle">2</text>
<text transform="translate(145.0,612.05) scale(1.3,1)" font-size="11.9" text-anchor="middle">2</text>
<text transform="translate(298.4,621.6) scale(1.3,1)" font-size="11.9" text-anchor="middle">1</text>
<text transform="translate(384.65,747.8) scale(1.3,1)" font-size="11.9" text-anchor="middle">2</text>
<text transform="translate(76.3,849.2) scale(1.335,1)" font-size="10.5">3B41100-F540</text>
</svg>
</body></html>
